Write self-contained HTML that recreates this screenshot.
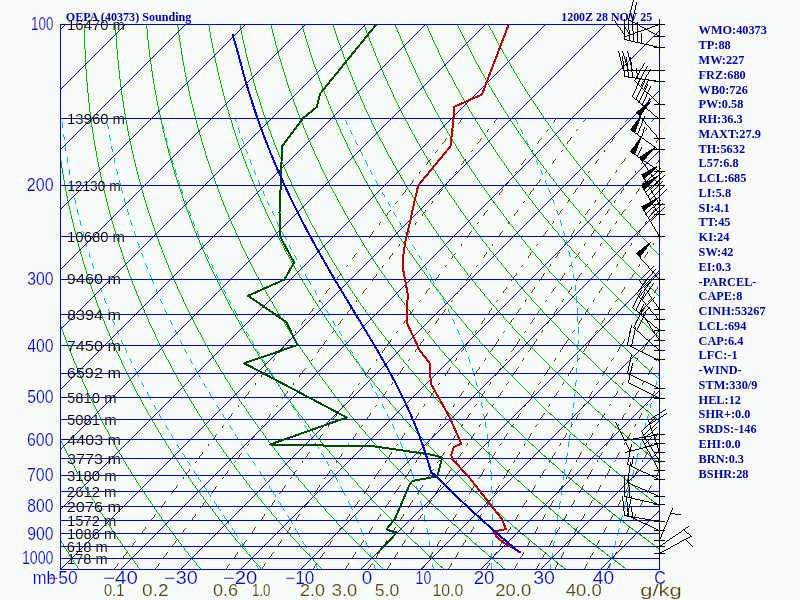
<!DOCTYPE html>
<html><head><meta charset="utf-8"><title>OEPA (40373) Sounding</title>
<style>html,body{margin:0;padding:0;background:#f8fcf8;overflow:hidden}svg{display:block}text{white-space:pre}</style></head>
<body>
<svg width="800" height="600" viewBox="0 0 800 600">
<rect width="800" height="600" fill="#f8fcf8"/>
<defs><clipPath id="cf"><rect x="60" y="24" width="600" height="546"/></clipPath></defs>
<g clip-path="url(#cf)" fill="none" shape-rendering="crispEdges">
<path d="M-39.5,24.5l-1,1 0,6-1,1 0,7-1,1 0,7-1,1 0,8-1,1 0,8-1,1 0,10-1,1 0,11-1,1 0,14-1,1 0,22-1,1 0,48 1,1 0,22 1,1 0,13 1,1 0,11 1,1 0,9 1,1 0,7 1,1 0,7 1,1 0,7 1,1 0,6 1,1 0,5 1,1 0,5 1,1 0,5 1,1 0,4 1,1 0,5 1,1 0,4 1,1 0,4 1,1 0,3 1,1 0,4 1,1 0,3 1,1 0,4 1,1 0,3 1,1 0,3 1,1 0,3 1,1 0,3 1,1 0,3 1,1 0,3 1,1 0,2 1,1 0,3 1,1 0,2 1,1 0,3 1,1 0,2 1,1 0,2 1,1 0,3 1,1 0,2 1,1 0,2 1,1 0,2 1,1 0,2 1,1 0,2 1,1 0,2 1,1 0,2 1,1 0,2 1,1 0,2 1,1 0,2 1,1 0,1 1,1 0,2 1,1 0,2 1,1 0,1 1,1 0,2 1,1 0,2 1,1 0,1 1,1 0,2 1,1 0,1 1,1 0,2 1,1 0,1 1,1 0,2 1,1 0,1 1,1 0,1 1,1 0,2 1,1 0,1 1,1 0,2 1,1 0,1 1,1 0,1 1,1 0,1 1,1 0,2 1,1 0,1 1,1 0,1 1,1 0,1 1,1 0,1 1,1 0,2 1,1 0,1 1,1 0,1 1,1 0,1 1,1 0,1 1,1 0,1 1,1 0,1 1,1 0,1 1,1 0,1 1,1 0,1 1,1 0,1 1,1 0,1 1,1 0,1 1,1 0,1 1,1 0,1 1,1 0,1 1,1 0,1 1,1 0,1 2,2 0,1 1,1 0,1 1,1 0,1 1,1 0,1 1,1 0,1 2,2 0,1 1,1 0,1 1,1 0,1 2,2 0,1 1,1 0,1 1,1 0,1 2,2 0,1 1,1 0,1 1,1 0,1 2,2 0,1 1,1 0,1 2,2 0,1 2,2 0,1 1,1 0,1 2,2 0,1 1,1 0,1 2,2 0,1 2,2 0,1 2,2 0,1 2,2 0,1 1,1 0,1 2,2 0,1 2,2 0,1 2,2M-8.5,24.5l0,1-1,1 0,9-1,1 0,11-1,1 0,12-1,1 0,18-1,1 0,71 1,1 0,17 1,1 0,12 1,1 0,10 1,1 0,8 1,1 0,7 1,1 0,7 1,1 0,6 1,1 0,6 1,1 0,5 1,1 0,5 1,1 0,5 1,1 0,4 1,1 0,4 1,1 0,4 1,1 0,4 1,1 0,4 1,1 0,3 1,1 0,4 1,1 0,3 1,1 0,3 1,1 0,3 1,1 0,3 1,1 0,3 1,1 0,3 1,1 0,3 1,1 0,2 1,1 0,3 1,1 0,2 1,1 0,3 1,1 0,2 1,1 0,2 1,1 0,2 1,1 0,3 1,1 0,2 1,1 0,2 1,1 0,2 1,1 0,2 1,1 0,2 1,1 0,2 1,1 0,2 1,1 0,1 1,1 0,2 1,1 0,2 1,1 0,2 1,1 0,1 1,1 0,2 1,1 0,2 1,1 0,1 1,1 0,2 1,1 0,1 1,1 0,2 1,1 0,1 1,1 0,2 1,1 0,1 1,1 0,2 1,1 0,1 1,1 0,1 1,1 0,2 1,1 0,1 1,1 0,1 1,1 0,2 1,1 0,1 1,1 0,1 1,1 0,1 1,1 0,1 1,1 0,2 1,1 0,1 1,1 0,1 1,1 0,1 1,1 0,1 1,1 0,1 1,1 0,1 1,1 0,1 1,1 0,1 1,1 0,1 1,1 0,1 1,1 0,1 1,1 0,1 1,1 0,1 1,1 0,1 1,1 0,1 1,1 0,1 1,1 0,1 1,1 0,1 1,1 0,1 1,1 0,1 2,2 0,1 1,1 0,1 1,1 0,1 1,1 0,1 1,1 0,1 2,2 0,1 1,1 0,1 1,1 0,1 2,2 0,1 1,1 0,1 1,1 0,1 2,2 0,1 1,1 0,1 2,2 0,1 1,1 0,1 2,2 0,1 1,1 0,1 2,2 0,1 2,2 0,1 1,1 0,1 2,2 0,1 2,2 0,1 1,1 0,1 2,2 0,1 2,2 0,1 2,2 0,1 2,2 0,1 2,2 0,1 2,2 0,1 3,3 0,1 2,2 0,1 2,2 0,1 3,3 0,1 2,2 0,1 3,3 0,1 2,2 0,1 3,3 0,1 3,3M22.5,24.5l0,3-1,1 0,18-1,1 0,68 1,1 0,18 1,1 0,12 1,1 0,10 1,1 0,8 1,1 0,8 1,1 0,6 1,1 0,7 1,1 0,5 1,1 0,6 1,1 0,5 1,1 0,4 1,1 0,5 1,1 0,4 1,1 0,4 1,1 0,4 1,1 0,4 1,1 0,3 1,1 0,3 1,1 0,4 1,1 0,3 1,1 0,3 1,1 0,3 1,1 0,3 1,1 0,3 1,1 0,2 1,1 0,3 1,1 0,2 1,1 0,3 1,1 0,2 1,1 0,3 1,1 0,2 1,1 0,2 1,1 0,2 1,1 0,2 1,1 0,3 1,1 0,2 1,1 0,2 1,1 0,2 1,1 0,1 1,1 0,2 1,1 0,2 1,1 0,2 1,1 0,2 1,1 0,1 1,1 0,2 1,1 0,2 1,1 0,1 1,1 0,2 1,1 0,2 1,1 0,1 1,1 0,2 1,1 0,1 1,1 0,2 1,1 0,1 1,1 0,1 1,1 0,2 1,1 0,1 1,1 0,1 1,1 0,2 1,1 0,1 1,1 0,1 1,1 0,2 1,1 0,1 1,1 0,1 1,1 0,1 1,1 0,1 1,1 0,2 1,1 0,1 1,1 0,1 1,1 0,1 1,1 0,1 1,1 0,1 1,1 0,1 1,1 0,1 1,1 0,1 1,1 0,1 1,1 0,1 1,1 0,1 1,1 0,1 1,1 0,1 1,1 0,1 1,1 0,1 1,1 0,1 1,1 0,1 1,1 0,1 2,2 0,1 1,1 0,1 1,1 0,1 1,1 0,1 1,1 0,1 2,2 0,1 1,1 0,1 1,1 0,1 1,1 0,1 2,2 0,1 1,1 0,1 2,2 0,1 1,1 0,1 1,1 0,1 2,2 0,1 1,1 0,1 2,2 0,1 2,2 0,1 1,1 0,1 2,2 0,1 2,2 0,1 1,1 0,1 2,2 0,1 2,2 0,1 2,2 0,1 2,2 0,1 2,2 0,1 2,2 0,1 2,2 0,1 2,2 0,1 2,2 0,1 2,2 0,1 3,3 0,1 2,2 0,1 2,2 0,1 3,3 0,1 3,3 0,1 3,3 0,1 3,3 0,1 3,3 0,1 3,3 0,1 3,3 0,1 4,4 0,1 4,4 0,1 4,4 0,1 4,4 0,1M53.5,24.5l0,16-1,1 0,16 1,1 0,31 1,1 0,15 1,1 0,12 1,1 0,9 1,1 0,8 1,1 0,7 1,1 0,7 1,1 0,6 1,1 0,6 1,1 0,5 1,1 0,5 1,1 0,4 1,1 0,5 1,1 0,4 1,1 0,4 1,1 0,4 1,1 0,3 1,1 0,4 1,1 0,3 1,1 0,3 1,1 0,3 1,1 0,3 1,1 0,3 1,1 0,3 1,1 0,3 1,1 0,3 1,1 0,2 1,1 0,3 1,1 0,2 1,1 0,3 1,1 0,2 1,1 0,2 1,1 0,2 1,1 0,3 1,1 0,2 1,1 0,2 1,1 0,2 1,1 0,2 1,1 0,2 1,1 0,2 1,1 0,1 1,1 0,2 1,1 0,2 1,1 0,2 1,1 0,2 1,1 0,1 1,1 0,2 1,1 0,1 1,1 0,2 1,1 0,2 1,1 0,1 1,1 0,2 1,1 0,1 1,1 0,2 1,1 0,1 1,1 0,1 1,1 0,2 1,1 0,1 1,1 0,1 1,1 0,2 1,1 0,1 1,1 0,1 1,1 0,2 1,1 0,1 1,1 0,1 1,1 0,1 1,1 0,1 1,1 0,1 1,1 0,2 1,1 0,1 1,1 0,1 1,1 0,1 1,1 0,1 1,1 0,1 1,1 0,1 1,1 0,1 1,1 0,1 1,1 0,1 1,1 0,1 1,1 0,1 1,1 0,1 1,1 0,1 1,1 0,1 1,1 0,1 1,1 0,1 2,2 0,1 1,1 0,1 1,1 0,1 1,1 0,1 1,1 0,1 2,2 0,1 1,1 0,1 1,1 0,1 1,1 0,1 2,2 0,1 1,1 0,1 1,1 0,1 2,2 0,1 1,1 0,1 2,2 0,1 1,1 0,1 2,2 0,1 1,1 0,1 2,2 0,1 2,2 0,1 1,1 0,1 2,2 0,1 2,2 0,1 1,1 0,1 2,2 0,1 2,2 0,1 2,2 0,1 2,2 0,1 2,2 0,1 2,2 0,1 2,2 0,1 3,3 0,1 2,2 0,1 2,2 0,1 3,3 0,1 2,2 0,1 3,3 0,1 3,3 0,1 2,2 0,1 3,3 0,1 4,4 0,1 3,3 0,1 3,3 0,1 4,4 0,1 4,4 0,1 4,4 0,1 5,5 0,1 5,5 0,1 6,6 0,1 6,6 0,1 8,8 0,1 1,1M84.5,24.5l0,24 1,1 0,19 1,1 0,12 1,1 0,10 1,1 0,9 1,1 0,8 1,1 0,6 1,1 0,7 1,1 0,5 1,1 0,6 1,1 0,5 1,1 0,4 1,1 0,5 1,1 0,4 1,1 0,4 1,1 0,4 1,1 0,4 1,1 0,3 1,1 0,4 1,1 0,3 1,1 0,3 1,1 0,3 1,1 0,3 1,1 0,3 1,1 0,3 1,1 0,3 1,1 0,2 1,1 0,3 1,1 0,2 1,1 0,3 1,1 0,2 1,1 0,2 1,1 0,3 1,1 0,2 1,1 0,2 1,1 0,2 1,1 0,2 1,1 0,2 1,1 0,2 1,1 0,2 1,1 0,2 1,1 0,2 1,1 0,1 1,1 0,2 1,1 0,2 1,1 0,2 1,1 0,1 1,1 0,2 1,1 0,2 1,1 0,1 1,1 0,2 1,1 0,1 1,1 0,2 1,1 0,1 1,1 0,2 1,1 0,1 1,1 0,1 1,1 0,2 1,1 0,1 1,1 0,1 1,1 0,2 1,1 0,1 1,1 0,1 1,1 0,1 1,1 0,2 1,1 0,1 1,1 0,1 1,1 0,1 1,1 0,1 1,1 0,1 1,1 0,1 1,1 0,2 1,1 0,1 1,1 0,1 1,1 0,1 1,1 0,1 1,1 0,1 1,1 0,1 1,1 0,1 1,1 0,1 1,1 0,1 1,1 0,1 1,1 0,1 2,2 0,1 1,1 0,1 1,1 0,1 1,1 0,1 1,1 0,1 1,1 0,1 2,2 0,1 1,1 0,1 1,1 0,1 1,1 0,1 2,2 0,1 1,1 0,1 1,1 0,1 2,2 0,1 1,1 0,1 2,2 0,1 1,1 0,1 1,1 0,1 2,2 0,1 2,2 0,1 1,1 0,1 2,2 0,1 1,1 0,1 2,2 0,1 2,2 0,1 2,2 0,1 1,1 0,1 2,2 0,1 2,2 0,1 2,2 0,1 2,2 0,1 2,2 0,1 2,2 0,1 3,3 0,1 2,2 0,1 2,2 0,1 3,3 0,1 2,2 0,1 3,3 0,1 3,3 0,1 2,2 0,1 3,3 0,1 4,4 0,1 3,3 0,1 3,3 0,1 4,4 0,1 4,4 0,1 4,4 0,1 5,5 0,1 5,5 0,1 5,5 0,1 7,7 0,1 7,7 0,1 9,9 0,1 14,14 0,1 9,9M115.5,24.5l0,9 1,1 0,14 1,1 0,10 1,1 0,9 1,1 0,8 1,1 0,7 1,1 0,7 1,1 0,5 1,1 0,6 1,1 0,5 1,1 0,5 1,1 0,4 1,1 0,5 1,1 0,4 1,1 0,4 1,1 0,3 1,1 0,4 1,1 0,3 1,1 0,4 1,1 0,3 1,1 0,3 1,1 0,3 1,1 0,3 1,1 0,3 1,1 0,2 1,1 0,3 1,1 0,3 1,1 0,2 1,1 0,3 1,1 0,2 1,1 0,2 1,1 0,3 1,1 0,2 1,1 0,2 1,1 0,2 1,1 0,2 1,1 0,2 1,1 0,2 1,1 0,2 1,1 0,2 1,1 0,2 1,1 0,1 1,1 0,2 1,1 0,2 1,1 0,2 1,1 0,1 1,1 0,2 1,1 0,2 1,1 0,1 1,1 0,2 1,1 0,1 1,1 0,2 1,1 0,1 1,1 0,2 1,1 0,1 1,1 0,1 1,1 0,2 1,1 0,1 1,1 0,1 1,1 0,2 1,1 0,1 1,1 0,1 1,1 0,2 1,1 0,1 1,1 0,1 1,1 0,1 1,1 0,1 1,1 0,1 1,1 0,2 1,1 0,1 1,1 0,1 1,1 0,1 1,1 0,1 1,1 0,1 1,1 0,1 1,1 0,1 1,1 0,1 1,1 0,1 1,1 0,1 1,1 0,1 1,1 0,1 1,1 0,1 1,1 0,1 1,1 0,1 2,2 0,1 1,1 0,1 1,1 0,1 1,1 0,1 1,1 0,1 1,1 0,1 2,2 0,1 1,1 0,1 1,1 0,1 2,2 0,1 1,1 0,1 1,1 0,1 2,2 0,1 1,1 0,1 2,2 0,1 1,1 0,1 1,1 0,1 2,2 0,1 2,2 0,1 1,1 0,1 2,2 0,1 2,2 0,1 1,1 0,1 2,2 0,1 2,2 0,1 2,2 0,1 2,2 0,1 1,1 0,1 2,2 0,1 3,3 0,1 2,2 0,1 2,2 0,1 2,2 0,1 2,2 0,1 3,3 0,1 2,2 0,1 3,3 0,1 3,3 0,1 2,2 0,1 3,3 0,1 3,3 0,1 3,3 0,1 4,4 0,1 3,3 0,1 4,4 0,1 4,4 0,1 5,5 0,1 4,4 0,1 6,6 0,1 6,6 0,1 7,7 0,1 8,8 0,1 11,11 0,1 47,47M146.5,24.5l0,4 1,1 0,10 1,1 0,8 1,1 0,7 1,1 0,6 1,1 0,6 1,1 0,6 1,1 0,5 1,1 0,5 1,1 0,4 1,1 0,5 1,1 0,4 1,1 0,4 1,1 0,3 1,1 0,4 1,1 0,3 1,1 0,4 1,1 0,3 1,1 0,3 1,1 0,3 1,1 0,3 1,1 0,3 1,1 0,3 1,1 0,2 1,1 0,3 1,1 0,2 1,1 0,3 1,1 0,2 1,1 0,3 1,1 0,2 1,1 0,2 1,1 0,2 1,1 0,2 1,1 0,2 1,1 0,2 1,1 0,2 1,1 0,2 1,1 0,2 1,1 0,2 1,1 0,2 1,1 0,2 1,1 0,1 1,1 0,2 1,1 0,2 1,1 0,1 1,1 0,2 1,1 0,2 1,1 0,1 1,1 0,2 1,1 0,1 1,1 0,2 1,1 0,1 1,1 0,1 1,1 0,2 1,1 0,1 1,1 0,2 1,1 0,1 1,1 0,1 1,1 0,1 1,1 0,2 1,1 0,1 1,1 0,1 1,1 0,1 1,1 0,2 1,1 0,1 1,1 0,1 1,1 0,1 1,1 0,1 1,1 0,1 1,1 0,1 1,1 0,1 1,1 0,1 1,1 0,1 1,1 0,1 1,1 0,1 1,1 0,1 1,1 0,1 1,1 0,1 1,1 0,1 1,1 0,1 1,1 0,1 1,1 0,1 1,1 0,1 1,1 0,1 1,1 0,1 1,1 0,1 2,2 0,1 1,1 0,1 1,1 0,1 1,1 0,1 2,2 0,1 1,1 0,1 1,1 0,1 2,2 0,1 1,1 0,1 1,1 0,1 2,2 0,1 1,1 0,1 2,2 0,1 1,1 0,1 2,2 0,1 1,1 0,1 2,2 0,1 2,2 0,1 1,1 0,1 2,2 0,1 2,2 0,1 2,2 0,1 1,1 0,1 2,2 0,1 2,2 0,1 2,2 0,1 2,2 0,1 3,3 0,1 2,2 0,1 2,2 0,1 2,2 0,1 3,3 0,1 2,2 0,1 3,3 0,1 3,3 0,1 2,2 0,1 3,3 0,1 4,4 0,1 3,3 0,1 3,3 0,1 4,4 0,1 4,4 0,1 4,4 0,1 4,4 0,1 5,5 0,1 6,6 0,1 6,6 0,1 7,7 0,1 9,9 0,1 13,13 0,1 44,44 2,1 13,13 2,1 9,9 2,1 2,2M177.5,24.5l0,2 1,1 0,7 1,1 0,6 1,1 0,5 1,1 0,6 1,1 0,5 1,1 0,4 1,1 0,5 1,1 0,4 1,1 0,4 1,1 0,3 1,1 0,4 1,1 0,4 1,1 0,3 1,1 0,3 1,1 0,3 1,1 0,3 1,1 0,3 1,1 0,3 1,1 0,3 1,1 0,3 1,1 0,2 1,1 0,3 1,1 0,2 1,1 0,3 1,1 0,2 1,1 0,2 1,1 0,2 1,1 0,3 1,1 0,2 1,1 0,2 1,1 0,2 1,1 0,2 1,1 0,2 1,1 0,2 1,1 0,1 1,1 0,2 1,1 0,2 1,1 0,2 1,1 0,1 1,1 0,2 1,1 0,2 1,1 0,1 1,1 0,2 1,1 0,2 1,1 0,1 1,1 0,2 1,1 0,1 1,1 0,2 1,1 0,1 1,1 0,1 1,1 0,2 1,1 0,1 1,1 0,1 1,1 0,2 1,1 0,1 1,1 0,1 1,1 0,1 1,1 0,2 1,1 0,1 1,1 0,1 1,1 0,1 1,1 0,1 1,1 0,2 1,1 0,1 1,1 0,1 1,1 0,1 1,1 0,1 1,1 0,1 1,1 0,1 1,1 0,1 1,1 0,1 1,1 0,1 1,1 0,1 1,1 0,1 1,1 0,1 1,1 0,1 1,1 0,1 1,1 0,1 1,1 0,1 2,2 0,1 1,1 0,1 1,1 0,1 1,1 0,1 1,1 0,1 2,2 0,1 1,1 0,1 1,1 0,1 1,1 0,1 2,2 0,1 1,1 0,1 2,2 0,1 1,1 0,1 1,1 0,1 2,2 0,1 1,1 0,1 2,2 0,1 1,1 0,1 2,2 0,1 2,2 0,1 1,1 0,1 2,2 0,1 2,2 0,1 1,1 0,1 2,2 0,1 2,2 0,1 2,2 0,1 2,2 0,1 2,2 0,1 2,2 0,1 2,2 0,1 3,3 0,1 2,2 0,1 2,2 0,1 3,3 0,1 2,2 0,1 3,3 0,1 3,3 0,1 3,3 0,1 3,3 0,1 3,3 0,1 3,3 0,1 4,4 0,1 3,3 0,1 4,4 0,1 4,4 0,1 5,5 0,1 5,5 0,1 6,6 0,1 6,6 0,1 8,8 0,1 10,10 0,1 16,16 0,1 31,31 2,1 15,15 2,1 10,10 2,1 7,7 2,1 6,6 2,1 5,5 2,1 5,5 2,1 5,5 2,1M208.5,24.5l0,1 1,1 0,5 1,1 0,5 1,1 0,4 1,1 0,4 1,1 0,4 1,1 0,4 1,1 0,4 1,1 0,3 1,1 0,4 1,1 0,3 1,1 0,3 1,1 0,3 1,1 0,3 1,1 0,3 1,1 0,3 1,1 0,3 1,1 0,2 1,1 0,3 1,1 0,2 1,1 0,3 1,1 0,2 1,1 0,2 1,1 0,2 1,1 0,3 1,1 0,2 1,1 0,2 1,1 0,2 1,1 0,2 1,1 0,2 1,1 0,2 1,1 0,2 1,1 0,1 1,1 0,2 1,1 0,2 1,1 0,2 1,1 0,1 1,1 0,2 1,1 0,2 1,1 0,1 1,1 0,2 1,1 0,1 1,1 0,2 1,1 0,1 1,1 0,2 1,1 0,1 1,1 0,2 1,1 0,1 1,1 0,1 1,1 0,2 1,1 0,1 1,1 0,1 1,1 0,2 1,1 0,1 1,1 0,1 1,1 0,1 1,1 0,1 1,1 0,2 1,1 0,1 1,1 0,1 1,1 0,1 1,1 0,1 1,1 0,1 1,1 0,1 1,1 0,1 1,1 0,1 1,1 0,1 1,1 0,1 1,1 0,1 1,1 0,1 1,1 0,1 1,1 0,1 1,1 0,1 1,1 0,1 1,1 0,1 1,1 0,1 1,1 0,1 1,1 0,1 1,1 0,1 2,2 0,1 1,1 0,1 1,1 0,1 1,1 0,1 2,2 0,1 1,1 0,1 1,1 0,1 2,2 0,1 1,1 0,1 1,1 0,1 2,2 0,1 1,1 0,1 2,2 0,1 1,1 0,1 2,2 0,1 1,1 0,1 2,2 0,1 2,2 0,1 1,1 0,1 2,2 0,1 2,2 0,1 1,1 0,1 2,2 0,1 2,2 0,1 2,2 0,1 2,2 0,1 2,2 0,1 2,2 0,1 3,3 0,1 2,2 0,1 2,2 0,1 3,3 0,1 2,2 0,1 3,3 0,1 2,2 0,1 3,3 0,1 3,3 0,1 3,3 0,1 3,3 0,1 4,4 0,1 3,3 0,1 4,4 0,1 4,4 0,1 5,5 0,1 4,4 0,1 6,6 0,1 6,6 0,1 7,7 0,1 8,8 0,1 12,12 0,1 52,52 2,1 11,11 2,1 8,8 2,1 7,7 2,1 6,6 2,1 5,5 2,1 4,4 2,1 4,4 2,1 4,4 2,1 3,3 2,1 4,4 2,1 3,3 2,1 3,3 2,1 2,2 2,1M239.5,24.5l1,1 0,4 1,1 0,4 1,1 0,4 1,1 0,3 1,1 0,3 1,1 0,4 1,1 0,3 1,1 0,3 1,1 0,3 1,1 0,2 1,1 0,3 1,1 0,3 1,1 0,2 1,1 0,3 1,1 0,2 1,1 0,3 1,1 0,2 1,1 0,2 1,1 0,2 1,1 0,2 1,1 0,3 1,1 0,2 1,1 0,2 1,1 0,2 1,1 0,1 1,1 0,2 1,1 0,2 1,1 0,2 1,1 0,2 1,1 0,1 1,1 0,2 1,1 0,2 1,1 0,1 1,1 0,2 1,1 0,2 1,1 0,1 1,1 0,2 1,1 0,1 1,1 0,2 1,1 0,1 1,1 0,1 1,1 0,2 1,1 0,1 1,1 0,2 1,1 0,1 1,1 0,1 1,1 0,1 1,1 0,2 1,1 0,1 1,1 0,1 1,1 0,1 1,1 0,2 1,1 0,1 1,1 0,1 1,1 0,1 1,1 0,1 1,1 0,1 1,1 0,1 1,1 0,1 1,1 0,1 1,1 0,1 1,1 0,1 1,1 0,1 1,1 0,1 1,1 0,1 1,1 0,1 1,1 0,1 1,1 0,1 1,1 0,1 1,1 0,1 1,1 0,1 1,1 0,1 1,1 0,1 2,2 0,1 1,1 0,1 1,1 0,1 1,1 0,1 2,2 0,1 1,1 0,1 1,1 0,1 1,1 0,1 2,2 0,1 1,1 0,1 2,2 0,1 1,1 0,1 1,1 0,1 2,2 0,1 1,1 0,1 2,2 0,1 2,2 0,1 1,1 0,1 2,2 0,1 2,2 0,1 1,1 0,1 2,2 0,1 2,2 0,1 2,2 0,1 2,2 0,1 2,2 0,1 2,2 0,1 2,2 0,1 2,2 0,1 2,2 0,1 3,3 0,1 2,2 0,1 2,2 0,1 3,3 0,1 3,3 0,1 2,2 0,1 3,3 0,1 3,3 0,1 4,4 0,1 3,3 0,1 3,3 0,1 4,4 0,1 4,4 0,1 4,4 0,1 5,5 0,1 5,5 0,1 6,6 0,1 6,6 0,1 8,8 0,1 10,10 0,1 18,18 0,1 26,26 2,1 17,17 2,1 9,9 2,1 8,8 2,1 6,6 2,1 5,5 2,1 5,5 2,1 5,5 2,1 4,4 2,1 3,3 2,1 4,4 2,1 3,3 2,1 3,3 2,1 3,3 2,1 2,2 2,1 3,3 2,1 2,2 2,1 3,3 2,1 2,2 2,1 2,2 2,1 2,2 2,1 2,2 2,1 2,2M270.5,24.5l1,1 0,3 1,1 0,3 1,1 0,3 1,1 0,3 1,1 0,3 1,1 0,2 1,1 0,3 1,1 0,3 1,1 0,2 1,1 0,2 1,1 0,3 1,1 0,2 1,1 0,2 1,1 0,2 1,1 0,2 1,1 0,3 1,1 0,2 1,1 0,2 1,1 0,2 1,1 0,1 1,1 0,2 1,1 0,2 1,1 0,2 1,1 0,2 1,1 0,1 1,1 0,2 1,1 0,2 1,1 0,1 1,1 0,2 1,1 0,1 1,1 0,2 1,1 0,1 1,1 0,2 1,1 0,1 1,1 0,2 1,1 0,1 1,1 0,2 1,1 0,1 1,1 0,1 1,1 0,2 1,1 0,1 1,1 0,1 1,1 0,1 1,1 0,2 1,1 0,1 1,1 0,1 1,1 0,1 1,1 0,1 1,1 0,1 1,1 0,2 1,1 0,1 1,1 0,1 1,1 0,1 1,1 0,1 1,1 0,1 1,1 0,1 1,1 0,1 1,1 0,1 1,1 0,1 1,1 0,1 1,1 0,1 1,1 0,1 1,1 0,1 2,2 0,1 1,1 0,1 1,1 0,1 1,1 0,1 1,1 0,1 1,1 0,1 2,2 0,1 1,1 0,1 1,1 0,1 1,1 0,1 2,2 0,1 1,1 0,1 1,1 0,1 2,2 0,1 1,1 0,1 2,2 0,1 1,1 0,1 1,1 0,1 2,2 0,1 2,2 0,1 1,1 0,1 2,2 0,1 1,1 0,1 2,2 0,1 2,2 0,1 2,2 0,1 2,2 0,1 1,1 0,1 2,2 0,1 2,2 0,1 2,2 0,1 2,2 0,1 3,3 0,1 2,2 0,1 2,2 0,1 3,3 0,1 2,2 0,1 3,3 0,1 2,2 0,1 3,3 0,1 3,3 0,1 3,3 0,1 3,3 0,1 3,3 0,1 4,4 0,1 4,4 0,1 4,4 0,1 4,4 0,1 5,5 0,1 5,5 0,1 5,5 0,1 7,7 0,1 8,8 0,1 10,10 0,1 17,17 0,1 26,26 2,1 17,17 2,1 10,10 2,1 7,7 2,1 7,7 2,1 5,5 2,1 5,5 2,1 4,4 2,1 4,4 2,1 4,4 2,1 3,3 2,1 3,3 2,1 3,3 2,1 3,3 2,1 3,3 2,1 2,2 2,1 3,3 2,1 2,2 2,1 2,2 2,1 2,2 2,1 2,2 2,1 2,2 2,1 2,2 2,1 2,2 2,1 2,2 2,1 2,2 2,1 1,1 2,1 2,2 2,1 1,1 2,1 2,2 2,1 1,1 2,1 2,2 2,1 1,1M301.5,24.5l1,1 0,2 1,1 0,3 1,1 0,2 1,1 0,3 1,1 0,2 1,1 0,2 1,1 0,2 1,1 0,3 1,1 0,2 1,1 0,2 1,1 0,2 1,1 0,2 1,1 0,2 1,1 0,1 1,1 0,2 1,1 0,2 1,1 0,2 1,1 0,2 1,1 0,1 1,1 0,2 1,1 0,2 1,1 0,1 1,1 0,2 1,1 0,1 1,1 0,2 1,1 0,1 1,1 0,2 1,1 0,1 1,1 0,2 1,1 0,1 1,1 0,1 1,1 0,2 1,1 0,1 1,1 0,1 1,1 0,2 1,1 0,1 1,1 0,1 1,1 0,1 1,1 0,2 1,1 0,1 1,1 0,1 1,1 0,1 1,1 0,1 1,1 0,1 1,1 0,1 1,1 0,2 1,1 0,1 1,1 0,1 1,1 0,1 1,1 0,1 1,1 0,1 1,1 0,1 1,1 0,1 1,1 0,1 1,1 0,1 2,2 0,1 1,1 0,1 1,1 0,1 1,1 0,1 1,1 0,1 1,1 0,1 1,1 0,1 2,2 0,1 1,1 0,1 1,1 0,1 1,1 0,1 2,2 0,1 1,1 0,1 1,1 0,1 2,2 0,1 1,1 0,1 1,1 0,1 2,2 0,1 1,1 0,1 2,2 0,1 1,1 0,1 2,2 0,1 2,2 0,1 1,1 0,1 2,2 0,1 2,2 0,1 1,1 0,1 2,2 0,1 2,2 0,1 2,2 0,1 2,2 0,1 2,2 0,1 2,2 0,1 2,2 0,1 2,2 0,1 3,3 0,1 2,2 0,1 2,2 0,1 3,3 0,1 2,2 0,1 3,3 0,1 3,3 0,1 3,3 0,1 3,3 0,1 3,3 0,1 4,4 0,1 3,3 0,1 4,4 0,1 4,4 0,1 5,5 0,1 5,5 0,1 5,5 0,1 6,6 0,1 7,7 0,1 9,9 0,1 12,12 0,1 49,49 2,1 12,12 2,1 8,8 2,1 7,7 2,1 5,5 2,1 5,5 2,1 5,5 2,1 4,4 2,1 4,4 2,1 3,3 2,1 4,4 2,1 3,3 2,1 3,3 2,1 2,2 2,1 3,3 2,1 3,3 2,1 2,2 2,1 2,2 2,1 2,2 2,1 2,2 2,1 2,2 2,1 2,2 2,1 2,2 2,1 2,2 2,1 2,2 2,1 1,1 2,1 2,2 2,1 2,2 2,1 1,1 2,1 2,2 2,1 1,1 2,1 1,1 2,1 2,2 2,1 1,1 2,1 1,1 2,1 2,2 2,1 1,1 2,1 1,1 2,1 1,1 2,1 1,1 2,1 1,1 2,1 1,1 2,1 1,1 2,1 1,1M333.5,24.5l0,3 1,1 0,2 1,1 0,2 1,1 0,2 1,1 0,2 1,1 0,2 1,1 0,1 1,1 0,2 1,1 0,2 1,1 0,2 1,1 0,2 1,1 0,1 1,1 0,2 1,1 0,2 1,1 0,1 1,1 0,2 1,1 0,1 1,1 0,2 1,1 0,1 1,1 0,2 1,1 0,1 1,1 0,2 1,1 0,1 1,1 0,2 1,1 0,1 1,1 0,1 1,1 0,1 1,1 0,2 1,1 0,1 1,1 0,1 1,1 0,1 1,1 0,2 1,1 0,1 1,1 0,1 1,1 0,1 1,1 0,1 1,1 0,1 1,1 0,1 1,1 0,2 1,1 0,1 1,1 0,1 1,1 0,1 1,1 0,1 1,1 0,1 1,1 0,1 1,1 0,1 1,1 0,1 1,1 0,1 2,2 0,1 1,1 0,1 1,1 0,1 1,1 0,1 1,1 0,1 1,1 0,1 1,1 0,1 2,2 0,1 1,1 0,1 1,1 0,1 1,1 0,1 2,2 0,1 1,1 0,1 1,1 0,1 2,2 0,1 1,1 0,1 1,1 0,1 2,2 0,1 1,1 0,1 2,2 0,1 1,1 0,1 2,2 0,1 2,2 0,1 1,1 0,1 2,2 0,1 2,2 0,1 1,1 0,1 2,2 0,1 2,2 0,1 2,2 0,1 2,2 0,1 2,2 0,1 2,2 0,1 2,2 0,1 2,2 0,1 3,3 0,1 2,2 0,1 2,2 0,1 3,3 0,1 2,2 0,1 3,3 0,1 3,3 0,1 3,3 0,1 3,3 0,1 3,3 0,1 4,4 0,1 3,3 0,1 4,4 0,1 4,4 0,1 5,5 0,1 4,4 0,1 6,6 0,1 6,6 0,1 7,7 0,1 9,9 0,1 12,12 0,1 49,49 2,1 12,12 2,1 8,8 2,1 7,7 2,1 6,6 2,1 5,5 2,1 4,4 2,1 4,4 2,1 4,4 2,1 3,3 2,1 4,4 2,1 3,3 2,1 3,3 2,1 2,2 2,1 3,3 2,1 3,3 2,1 2,2 2,1 2,2 2,1 2,2 2,1 2,2 2,1 2,2 2,1 2,2 2,1 2,2 2,1 2,2 2,1 2,2 2,1 1,1 2,1 2,2 2,1 2,2 2,1 1,1 2,1 2,2 2,1 1,1 2,1 1,1 2,1 2,2 2,1 1,1 2,1 1,1 2,1 2,2 2,1 1,1 2,1 1,1 2,1 1,1 2,1 1,1 2,1 1,1 2,1 1,1 2,1 1,1 2,1 1,1 2,1 1,1 2,1 1,1 2,1 1,1 2,1 1,1 2,1 1,1 2,1 1,1 2,1 1,1 2,1 1,1 2,1 2,1 1,1 2,1 1,1 2,1 1,1 2,1M364.5,24.5l0,2 1,1 0,2 1,1 0,2 1,1 0,1 1,1 0,2 1,1 0,2 1,1 0,1 1,1 0,2 1,1 0,1 1,1 0,2 1,1 0,1 1,1 0,2 1,1 0,1 1,1 0,2 1,1 0,1 1,1 0,1 1,1 0,2 1,1 0,1 1,1 0,1 1,1 0,2 1,1 0,1 1,1 0,1 1,1 0,1 1,1 0,2 1,1 0,1 1,1 0,1 1,1 0,1 1,1 0,1 1,1 0,1 1,1 0,2 1,1 0,1 1,1 0,1 1,1 0,1 1,1 0,1 1,1 0,1 1,1 0,1 1,1 0,1 1,1 0,1 1,1 0,1 1,1 0,1 1,1 0,1 1,1 0,1 2,2 0,1 1,1 0,1 1,1 0,1 1,1 0,1 1,1 0,1 1,1 0,1 2,2 0,1 1,1 0,1 1,1 0,1 1,1 0,1 2,2 0,1 1,1 0,1 1,1 0,1 2,2 0,1 1,1 0,1 2,2 0,1 1,1 0,1 2,2 0,1 1,1 0,1 2,2 0,1 1,1 0,1 2,2 0,1 2,2 0,1 1,1 0,1 2,2 0,1 2,2 0,1 2,2 0,1 1,1 0,1 2,2 0,1 2,2 0,1 2,2 0,1 3,3 0,1 2,2 0,1 2,2 0,1 2,2 0,1 3,3 0,1 2,2 0,1 3,3 0,1 2,2 0,1 3,3 0,1 3,3 0,1 3,3 0,1 3,3 0,1 4,4 0,1 3,3 0,1 4,4 0,1 4,4 0,1 4,4 0,1 5,5 0,1 5,5 0,1 6,6 0,1 6,6 0,1 8,8 0,1 11,11 0,1 18,18 0,1 23,23 2,1 17,17 2,1 10,10 2,1 8,8 2,1 6,6 2,1 6,6 2,1 4,4 2,1 5,5 2,1 4,4 2,1 3,3 2,1 4,4 2,1 3,3 2,1 3,3 2,1 3,3 2,1 3,3 2,1 2,2 2,1 3,3 2,1 2,2 2,1 2,2 2,1 2,2 2,1 2,2 2,1 2,2 2,1 2,2 2,1 2,2 2,1 2,2 2,1 2,2 2,1 1,1 2,1 2,2 2,1 1,1 2,1 2,2 2,1 1,1 2,1 2,2 2,1 1,1 2,1 1,1 2,1 2,2 2,1 1,1 2,1 1,1 2,1 1,1 2,1 2,2 2,1 1,1 2,1 1,1 2,1 1,1 2,1 1,1 2,1 1,1 2,1 1,1 2,1 1,1 2,1 1,1 2,1 1,1 2,1 1,1 2,1 1,1 2,1 2,1 1,1 2,1 1,1 2,1 1,1 2,1 1,1 2,1 2,1 1,1 2,1 1,1 2,1 1,1 2,1 2,1 1,1 2,1 1,1 2,1 2,1 1,1 2,1 1,1 2,1 2,1 1,1 2,1 2,1 1,1 2,1 1,1 2,1 2,1M395.5,24.5l0,2 1,1 0,1 1,1 0,2 1,1 0,1 1,1 0,1 1,1 0,2 1,1 0,1 1,1 0,2 1,1 0,1 1,1 0,1 1,1 0,2 1,1 0,1 1,1 0,1 1,1 0,1 1,1 0,2 1,1 0,1 1,1 0,1 1,1 0,1 1,1 0,1 1,1 0,1 1,1 0,2 1,1 0,1 1,1 0,1 1,1 0,1 1,1 0,1 1,1 0,1 1,1 0,1 1,1 0,1 1,1 0,1 1,1 0,1 1,1 0,1 1,1 0,1 1,1 0,1 1,1 0,1 2,2 0,1 1,1 0,1 1,1 0,1 1,1 0,1 1,1 0,1 1,1 0,1 2,2 0,1 1,1 0,1 1,1 0,1 1,1 0,1 2,2 0,1 1,1 0,1 1,1 0,1 2,2 0,1 1,1 0,1 2,2 0,1 1,1 0,1 2,2 0,1 1,1 0,1 2,2 0,1 1,1 0,1 2,2 0,1 2,2 0,1 1,1 0,1 2,2 0,1 2,2 0,1 2,2 0,1 2,2 0,1 2,2 0,1 2,2 0,1 2,2 0,1 2,2 0,1 2,2 0,1 2,2 0,1 3,3 0,1 2,2 0,1 3,3 0,1 2,2 0,1 3,3 0,1 3,3 0,1 3,3 0,1 3,3 0,1 3,3 0,1 3,3 0,1 4,4 0,1 4,4 0,1 4,4 0,1 4,4 0,1 5,5 0,1 5,5 0,1 6,6 0,1 7,7 0,1 9,9 0,1 11,11 0,1 53,53 2,1 11,11 2,1 8,8 2,1 6,6 2,1 6,6 2,1 5,5 2,1 5,5 2,1 4,4 2,1 3,3 2,1 4,4 2,1 3,3 2,1 3,3 2,1 3,3 2,1 3,3 2,1 2,2 2,1 3,3 2,1 2,2 2,1 3,3 2,1 2,2 2,1 2,2 2,1 2,2 2,1 2,2 2,1 2,2 2,1 1,1 2,1 2,2 2,1 2,2 2,1 1,1 2,1 2,2 2,1 1,1 2,1 2,2 2,1 1,1 2,1 2,2 2,1 1,1 2,1 1,1 2,1 2,2 2,1 1,1 2,1 1,1 2,1 1,1 2,1 1,1 2,1 1,1 2,1 2,2 2,1 1,1 2,1 1,1 2,1 1,1 2,1 1,1 2,1 1,1 2,1 1,1 2,1 2,1 1,1 2,1 1,1 2,1 1,1 2,1 1,1 2,1 1,1 2,1 2,1 1,1 2,1 1,1 2,1 1,1 2,1 2,1 1,1 2,1 1,1 2,1 1,1 2,1 2,1 1,1 2,1 2,1 1,1 2,1 1,1 2,1 2,1 1,1 2,1 2,1 1,1 2,1 1,1 2,1 2,1 1,1 2,1 2,1 1,1 2,1 2,1 1,1 2,1 2,1 2,1 1,1 2,1 2,1 1,1 2,1 2,1 1,1 2,1 2,1 2,1M426.5,24.5l0,1 1,1 0,1 1,1 0,2 1,1 0,1 1,1 0,1 1,1 0,1 1,1 0,2 1,1 0,1 1,1 0,1 1,1 0,1 1,1 0,1 1,1 0,1 1,1 0,2 1,1 0,1 1,1 0,1 1,1 0,1 1,1 0,1 1,1 0,1 1,1 0,1 1,1 0,1 1,1 0,1 1,1 0,1 1,1 0,1 1,1 0,1 2,2 0,1 1,1 0,1 1,1 0,1 1,1 0,1 1,1 0,1 1,1 0,1 2,2 0,1 1,1 0,1 1,1 0,1 1,1 0,1 2,2 0,1 1,1 0,1 1,1 0,1 2,2 0,1 1,1 0,1 1,1 0,1 2,2 0,1 1,1 0,1 2,2 0,1 1,1 0,1 2,2 0,1 2,2 0,1 1,1 0,1 2,2 0,1 2,2 0,1 1,1 0,1 2,2 0,1 2,2 0,1 2,2 0,1 2,2 0,1 2,2 0,1 2,2 0,1 2,2 0,1 2,2 0,1 3,3 0,1 2,2 0,1 2,2 0,1 3,3 0,1 2,2 0,1 3,3 0,1 3,3 0,1 3,3 0,1 3,3 0,1 3,3 0,1 4,4 0,1 3,3 0,1 4,4 0,1 4,4 0,1 5,5 0,1 4,4 0,1 6,6 0,1 6,6 0,1 7,7 0,1 8,8 0,1 12,12 0,1 50,50 2,1 12,12 2,1 8,8 2,1 7,7 2,1 6,6 2,1 5,5 2,1 4,4 2,1 4,4 2,1 4,4 2,1 4,4 2,1 3,3 2,1 3,3 2,1 3,3 2,1 3,3 2,1 2,2 2,1 3,3 2,1 2,2 2,1 2,2 2,1 2,2 2,1 2,2 2,1 2,2 2,1 2,2 2,1 2,2 2,1 2,2 2,1 2,2 2,1 1,1 2,1 2,2 2,1 2,2 2,1 1,1 2,1 2,2 2,1 1,1 2,1 1,1 2,1 2,2 2,1 1,1 2,1 1,1 2,1 2,2 2,1 1,1 2,1 1,1 2,1 1,1 2,1 1,1 2,1 1,1 2,1 1,1 2,1 1,1 2,1 1,1 2,1 1,1 2,1 1,1 2,1 1,1 2,1 1,1 2,1 1,1 2,1 1,1 2,1 1,1 2,1 1,1 2,1 2,1 1,1 2,1 1,1 2,1 1,1 2,1 1,1 2,1 2,1 1,1 2,1 1,1 2,1 2,1 1,1 2,1 1,1 2,1 2,1 1,1 2,1 1,1 2,1 2,1 1,1 2,1 2,1 1,1 2,1 2,1 1,1 2,1 2,1 1,1 2,1 2,1 1,1 2,1 2,1 1,1 2,1 2,1 1,1 2,1 2,1 1,1 2,1 2,1 2,1 1,1 2,1 2,1 1,1 2,1 2,1 2,1 1,1 2,1 2,1 2,1 1,1 2,1 2,1 2,1 1,1 2,1 2,1 2,1 1,1 2,1 2,1 2,1 2,1 1,1M457.5,24.5l0,1 1,1 0,1 1,1 0,1 1,1 0,1 1,1 0,1 1,1 0,1 1,1 0,1 1,1 0,1 1,1 0,1 1,1 0,1 1,1 0,1 1,1 0,1 1,1 0,1 1,1 0,1 1,1 0,1 1,1 0,1 1,1 0,1 1,1 0,1 1,1 0,1 1,1 0,1 2,2 0,1 1,1 0,1 1,1 0,1 1,1 0,1 2,2 0,1 1,1 0,1 1,1 0,1 2,2 0,1 1,1 0,1 1,1 0,1 2,2 0,1 1,1 0,1 2,2 0,1 1,1 0,1 2,2 0,1 1,1 0,1 2,2 0,1 1,1 0,1 2,2 0,1 2,2 0,1 2,2 0,1 1,1 0,1 2,2 0,1 2,2 0,1 2,2 0,1 2,2 0,1 2,2 0,1 2,2 0,1 3,3 0,1 2,2 0,1 2,2 0,1 2,2 0,1 3,3 0,1 3,3 0,1 2,2 0,1 3,3 0,1 3,3 0,1 3,3 0,1 3,3 0,1 4,4 0,1 3,3 0,1 4,4 0,1 4,4 0,1 5,5 0,1 4,4 0,1 6,6 0,1 6,6 0,1 7,7 0,1 8,8 0,1 11,11 0,1 53,53 2,1 11,11 2,1 8,8 2,1 7,7 2,1 6,6 2,1 5,5 2,1 4,4 2,1 4,4 2,1 4,4 2,1 3,3 2,1 4,4 2,1 3,3 2,1 3,3 2,1 2,2 2,1 3,3 2,1 2,2 2,1 3,3 2,1 2,2 2,1 2,2 2,1 2,2 2,1 2,2 2,1 2,2 2,1 2,2 2,1 2,2 2,1 2,2 2,1 1,1 2,1 2,2 2,1 1,1 2,1 2,2 2,1 1,1 2,1 2,2 2,1 1,1 2,1 2,2 2,1 1,1 2,1 1,1 2,1 1,1 2,1 2,2 2,1 1,1 2,1 1,1 2,1 1,1 2,1 1,1 2,1 1,1 2,1 1,1 2,1 1,1 2,1 1,1 2,1 1,1 2,1 1,1 2,1 1,1 2,1 1,1 2,1 1,1 2,1 1,1 2,1 2,1 1,1 2,1 1,1 2,1 1,1 2,1 1,1 2,1 2,1 1,1 2,1 1,1 2,1 2,1 1,1 2,1 1,1 2,1 2,1 1,1 2,1 1,1 2,1 2,1 1,1 2,1 2,1 1,1 2,1 1,1 2,1 2,1 1,1 2,1 2,1 1,1 2,1 2,1 1,1 2,1 2,1 1,1 2,1 2,1 2,1 1,1 2,1 2,1 1,1 2,1 2,1 1,1 2,1 2,1 2,1 1,1 2,1 2,1 2,1 1,1 2,1 2,1 2,1 1,1 2,1 2,1 2,1 1,1 2,1 2,1 2,1 2,1 1,1 2,1 2,1 2,1 2,1 1,1 2,1 2,1 2,1 2,1 1,1 2,1 2,1 2,1 2,1 2,1 1,1 2,1 2,1 2,1 2,1 2,1 2,1 1,1 2,1M488.5,24.5l0,1 1,1 0,1 1,1 0,1 2,2 0,1 1,1 0,1 1,1 0,1 1,1 0,1 1,1 0,1 1,1 0,1 1,1 0,1 2,2 0,1 1,1 0,1 1,1 0,1 1,1 0,1 2,2 0,1 1,1 0,1 1,1 0,1 2,2 0,1 1,1 0,1 1,1 0,1 2,2 0,1 1,1 0,1 2,2 0,1 1,1 0,1 2,2 0,1 1,1 0,1 2,2 0,1 2,2 0,1 1,1 0,1 2,2 0,1 2,2 0,1 2,2 0,1 2,2 0,1 2,2 0,1 2,2 0,1 2,2 0,1 2,2 0,1 2,2 0,1 2,2 0,1 3,3 0,1 2,2 0,1 2,2 0,1 3,3 0,1 3,3 0,1 2,2 0,1 3,3 0,1 3,3 0,1 4,4 0,1 3,3 0,1 3,3 0,1 4,4 0,1 4,4 0,1 5,5 0,1 4,4 0,1 6,6 0,1 5,5 0,1 7,7 0,1 8,8 0,1 11,11 0,1 20,20 0,1 16,16 2,1 20,20 2,1 10,10 2,1 8,8 2,1 7,7 2,1 5,5 2,1 5,5 2,1 4,4 2,1 4,4 2,1 4,4 2,1 3,3 2,1 4,4 2,1 3,3 2,1 3,3 2,1 2,2 2,1 3,3 2,1 2,2 2,1 3,3 2,1 2,2 2,1 2,2 2,1 2,2 2,1 2,2 2,1 2,2 2,1 2,2 2,1 1,1 2,1 2,2 2,1 2,2 2,1 1,1 2,1 2,2 2,1 2,2 2,1 1,1 2,1 1,1 2,1 2,2 2,1 1,1 2,1 1,1 2,1 2,2 2,1 1,1 2,1 1,1 2,1 1,1 2,1 1,1 2,1 2,2 2,1 1,1 2,1 1,1 2,1 1,1 2,1 1,1 2,1 1,1 2,1 1,1 2,1 1,1 2,1 2,1 1,1 2,1 1,1 2,1 1,1 2,1 1,1 2,1 1,1 2,1 2,1 1,1 2,1 1,1 2,1 1,1 2,1 2,1 1,1 2,1 1,1 2,1 2,1 1,1 2,1 1,1 2,1 2,1 1,1 2,1 1,1 2,1 2,1 1,1 2,1 2,1 1,1 2,1 2,1 1,1 2,1 1,1 2,1 2,1 1,1 2,1 2,1 2,1 1,1 2,1 2,1 1,1 2,1 2,1 1,1 2,1 2,1 2,1 1,1 2,1 2,1 1,1 2,1 2,1 2,1 1,1 2,1 2,1 2,1 1,1 2,1 2,1 2,1 1,1 2,1 2,1 2,1 1,1 2,1 2,1 2,1 2,1 1,1 2,1 2,1 2,1 2,1 1,1 2,1 2,1 2,1 2,1 2,1 1,1 2,1 2,1 2,1 2,1 2,1 2,1 1,1 2,1 2,1 2,1 2,1 2,1 2,1 2,1 1,1 2,1 2,1 2,1 2,1 2,1 2,1 2,1 2,1 2,1 1,1 2,1 2,1 2,1 2,1 2,1 2,1" stroke="#00b400" stroke-width="1"/>
<path d="M259.5,569.5l-2,-2 0,-1-2,-2 0,-1-2,-2 0,-1-1,-1 0,-1M252.5,558.5l-2,-2 0,-1-2,-2 0,-1-2,-2 0,-1-2,-2 0,-1M244.5,546.5l-2,-2 0,-1-2,-2 0,-1-2,-2 0,-1-2,-2 0,-1-1,-1M235.5,533.5l-1,-1 0,-1-2,-2 0,-1-2,-2 0,-1-2,-2 0,-1-2,-2M226.5,520.5l0,-1-2,-2 0,-1-2,-2 0,-1-2,-2 0,-1-2,-2 0,-1-1,-1M217.5,506.5l-1,-1 0,-1-2,-2 0,-1-2,-2 0,-1-2,-2 0,-1-2,-2 0,-1-1,-1M207.5,491.5l-1,-1 0,-1-2,-2 0,-1-2,-2 0,-1-2,-2 0,-1-2,-2 0,-1-2,-2M196.5,475.5l0,-1-2,-2 0,-1-2,-2 0,-1-1,-1 0,-1-2,-2 0,-1-2,-2 0,-1-2,-2M185.5,458.5l0,-1-1,-1 0,-1-2,-2 0,-1-2,-2 0,-1-2,-2 0,-1-1,-1 0,-1-2,-2 0,-1-1,-1 0,-1M174.5,439.5l-2,-2 0,-1-1,-1 0,-1-2,-2 0,-1-1,-1 0,-1-2,-2 0,-1-1,-1 0,-1-2,-2 0,-1-1,-1 0,-1M162.5,419.5l-2,-2 0,-1-1,-1 0,-1-1,-1 0,-1-2,-2 0,-1-1,-1 0,-1-1,-1 0,-1-1,-1 0,-1-2,-2 0,-1-1,-1 0,-1-1,-1M149.5,397.5l0,-1-1,-1 0,-1-1,-1 0,-1-2,-2 0,-1-1,-1 0,-1-1,-1 0,-1-1,-1 0,-1-1,-1 0,-1-1,-1 0,-1-1,-1 0,-1-1,-1 0,-1-1,-1 0,-1M137.5,373.5l-1,-1 0,-1-1,-1 0,-1-1,-1 0,-1-1,-1 0,-1-1,-1 0,-1-1,-1 0,-1-1,-1 0,-1-1,-1 0,-1-1,-1 0,-1-1,-1 0,-1-1,-1 0,-2-1,-1 0,-1-1,-1 0,-1-1,-1M123.5,345.5l0,-1-1,-1 0,-1-1,-1 0,-2-1,-1 0,-1-1,-1 0,-1-1,-1 0,-1-1,-1 0,-2-1,-1 0,-1-1,-1 0,-1-1,-1 0,-2-1,-1 0,-1-1,-1 0,-2-1,-1 0,-1-1,-1 0,-1M110.5,314.5l0,-1-1,-1 0,-1-1,-1 0,-2-1,-1 0,-1-1,-1 0,-2-1,-1 0,-1-1,-1 0,-2-1,-1 0,-2-1,-1 0,-2-1,-1 0,-1-1,-1 0,-2-1,-1 0,-2-1,-1 0,-2-1,-1 0,-1M97.5,279.5l0,-1-1,-1 0,-2-1,-1 0,-2-1,-1 0,-2-1,-1 0,-2-1,-1 0,-2-1,-1 0,-2-1,-1 0,-2-1,-1 0,-3-1,-1 0,-2-1,-1 0,-2-1,-1 0,-3-1,-1 0,-2-1,-1 0,-3M84.5,236.5l-1,-1 0,-3-1,-1 0,-2-1,-1 0,-3-1,-1 0,-3-1,-1 0,-3-1,-1 0,-3-1,-1 0,-3-1,-1 0,-4-1,-1 0,-3-1,-1 0,-4-1,-1 0,-4-1,-1 0,-4M72.5,185.5l-1,-1 0,-4-1,-1 0,-4-1,-1 0,-5-1,-1 0,-4-1,-1 0,-6-1,-1 0,-5-1,-1 0,-6-1,-1 0,-6-1,-1 0,-8-1,-1 0,-7-1,-1 0,-1M317.5,569.5l0,-1-1,-1 0,-1-1,-1 0,-1-1,-1 0,-1-1,-1 0,-1-2,-2M311.5,558.5l0,-1-1,-1 0,-1-1,-1 0,-1-1,-1 0,-1-1,-1 0,-1-1,-1 0,-1-1,-1M305.5,546.5l0,-1-2,-2 0,-1-1,-1 0,-1-1,-1 0,-1-2,-2 0,-1-1,-1 0,-1M298.5,533.5l-1,-1 0,-1-2,-2 0,-1-1,-1 0,-1-2,-2 0,-1-1,-1 0,-1-1,-1M290.5,520.5l-1,-1 0,-1-1,-1 0,-1-2,-2 0,-1-1,-1 0,-1-2,-2 0,-1-2,-2M281.5,506.5l0,-1-1,-1 0,-1-2,-2 0,-1-2,-2 0,-1-1,-1 0,-1-2,-2 0,-1-1,-1M272.5,491.5l-1,-1 0,-1-2,-2 0,-1-2,-2 0,-1-2,-2 0,-1-1,-1 0,-1-2,-2 0,-1M262.5,475.5l-2,-2 0,-1-2,-2 0,-1-2,-2 0,-1-2,-2 0,-1-2,-2 0,-1-2,-2M250.5,458.5l0,-1-2,-2 0,-1-1,-1 0,-1-2,-2 0,-1-2,-2 0,-1-2,-2 0,-1-2,-2 0,-1-1,-1M238.5,439.5l-1,-1 0,-1-2,-2 0,-1-1,-1 0,-1-2,-2 0,-1-2,-2 0,-1-2,-2 0,-1-2,-2 0,-1-1,-1M225.5,419.5l0,-1-2,-2 0,-1-2,-2 0,-1-1,-1 0,-1-2,-2 0,-1-2,-2 0,-1-1,-1 0,-1-2,-2 0,-1-1,-1 0,-1M212.5,397.5l-2,-2 0,-1-1,-1 0,-1-2,-2 0,-1-1,-1 0,-1-2,-2 0,-1-1,-1 0,-1-1,-1 0,-1-2,-2 0,-1-1,-1 0,-1-1,-1 0,-1M198.5,373.5l-2,-2 0,-1-1,-1 0,-1-1,-1 0,-1-2,-2 0,-1-1,-1 0,-1-1,-1 0,-1-1,-1 0,-1-1,-1 0,-1-2,-2 0,-1-1,-1 0,-1-1,-1 0,-1-1,-1 0,-1-1,-1M182.5,345.5l0,-1-1,-1 0,-1-1,-1 0,-1-1,-1 0,-1-1,-1 0,-1-1,-1 0,-1-1,-1 0,-1-1,-1 0,-1-1,-1 0,-1-1,-1 0,-1-1,-1 0,-1-1,-1 0,-1-1,-1 0,-1-1,-1 0,-1-1,-1 0,-1-1,-1 0,-1M167.5,314.5l-1,-1 0,-1-1,-1 0,-1-1,-1 0,-2-1,-1 0,-1-1,-1 0,-1-1,-1 0,-1-1,-1 0,-1-1,-1 0,-2-1,-1 0,-1-1,-1 0,-1-1,-1 0,-2-1,-1 0,-1-1,-1 0,-1-1,-1 0,-2-1,-1 0,-1-1,-1M151.5,279.5l0,-2-1,-1 0,-1-1,-1 0,-2-1,-1 0,-1-1,-1 0,-2-1,-1 0,-1-1,-1 0,-2-1,-1 0,-2-1,-1 0,-1-1,-1 0,-2-1,-1 0,-2-1,-1 0,-1-1,-1 0,-2-1,-1 0,-2-1,-1 0,-2-1,-1 0,-2-1,-1M135.5,236.5l0,-2-1,-1 0,-2-1,-1 0,-2-1,-1 0,-2-1,-1 0,-2-1,-1 0,-2-1,-1 0,-3-1,-1 0,-2-1,-1 0,-2-1,-1 0,-3-1,-1 0,-2-1,-1 0,-3-1,-1 0,-2-1,-1 0,-3-1,-1 0,-3-1,-1 0,-1M120.5,185.5l0,-2-1,-1 0,-3-1,-1 0,-3-1,-1 0,-3-1,-1 0,-3-1,-1 0,-3-1,-1 0,-4-1,-1 0,-4-1,-1 0,-3-1,-1 0,-4-1,-1 0,-5-1,-1 0,-4-1,-1 0,-5-1,-1 0,-4-1,-1 0,-3M375.5,569.5l0,-1-1,-1 0,-2-1,-1 0,-2-1,-1 0,-2-1,-1M371.5,558.5l0,-2-1,-1 0,-2-1,-1 0,-2-1,-1 0,-2-1,-1M367.5,546.5l0,-1-1,-1 0,-2-1,-1 0,-2-1,-1 0,-1-1,-1 0,-2-1,-1M362.5,533.5l0,-1-1,-1 0,-2-1,-1 0,-1-1,-1 0,-1-1,-1 0,-2-1,-1 0,-1M357.5,520.5l-1,-1 0,-1-1,-1 0,-1-1,-1 0,-1-1,-1 0,-2-1,-1 0,-1-1,-1 0,-1-1,-1M350.5,506.5l0,-1-1,-1 0,-1-1,-1 0,-1-1,-1 0,-1-1,-1 0,-1-1,-1 0,-1-1,-1 0,-1-1,-1 0,-1M343.5,491.5l-1,-1 0,-1-1,-1 0,-1-1,-1 0,-1-2,-2 0,-1-1,-1 0,-1-1,-1 0,-1-1,-1 0,-1-1,-1M334.5,475.5l0,-1-2,-2 0,-1-1,-1 0,-1-1,-1 0,-1-2,-2 0,-1-1,-1 0,-1-2,-2 0,-1-1,-1M324.5,458.5l0,-1-1,-1 0,-1-2,-2 0,-1-1,-1 0,-1-2,-2 0,-1-2,-2 0,-1-1,-1 0,-1-2,-2 0,-1M313.5,439.5l-1,-1 0,-1-2,-2 0,-1-2,-2 0,-1-1,-1 0,-1-2,-2 0,-1-2,-2 0,-1-1,-1 0,-1-2,-2M300.5,419.5l0,-1-2,-2 0,-1-2,-2 0,-1-1,-1 0,-1-2,-2 0,-1-2,-2 0,-1-2,-2 0,-1-1,-1 0,-1-2,-2M286.5,397.5l0,-1-2,-2 0,-1-2,-2 0,-1-1,-1 0,-1-2,-2 0,-1-2,-2 0,-1-2,-2 0,-1-1,-1 0,-1-2,-2 0,-1-1,-1M271.5,373.5l-1,-1 0,-1-1,-1 0,-1-2,-2 0,-1-1,-1 0,-1-2,-2 0,-1-2,-2 0,-1-1,-1 0,-1-2,-2 0,-1-1,-1 0,-1-2,-2 0,-1-1,-1 0,-1-1,-1M254.5,345.5l-1,-1 0,-1-1,-1 0,-1-1,-1 0,-1-2,-2 0,-1-1,-1 0,-1-2,-2 0,-1-1,-1 0,-1-1,-1 0,-1-2,-2 0,-1-1,-1 0,-1-1,-1 0,-1-1,-1 0,-1-2,-2 0,-1-1,-1M236.5,314.5l0,-1-1,-1 0,-1-1,-1 0,-1-1,-1 0,-1-1,-1 0,-1-2,-2 0,-1-1,-1 0,-1-1,-1 0,-1-1,-1 0,-1-1,-1 0,-1-1,-1 0,-1-1,-1 0,-1-1,-1 0,-1-1,-1 0,-1-1,-1 0,-1-1,-1 0,-1-1,-1 0,-1-1,-1M218.5,279.5l0,-1-1,-1 0,-1-1,-1 0,-1-1,-1 0,-1-1,-1 0,-1-1,-1 0,-1-1,-1 0,-2-1,-1 0,-1-1,-1 0,-1-1,-1 0,-1-1,-1 0,-1-1,-1 0,-1-1,-1 0,-2-1,-1 0,-1-1,-1 0,-1-1,-1 0,-2-1,-1 0,-1-1,-1 0,-1-1,-1 0,-2-1,-1 0,-1M199.5,236.5l-1,-1 0,-1-1,-1 0,-2-1,-1 0,-1-1,-1 0,-2-1,-1 0,-1-1,-1 0,-2-1,-1 0,-1-1,-1 0,-2-1,-1 0,-2-1,-1 0,-1-1,-1 0,-2-1,-1 0,-2-1,-1 0,-2-1,-1 0,-1-1,-1 0,-2-1,-1 0,-2-1,-1 0,-2-1,-1 0,-2-1,-1 0,-2M180.5,185.5l-1,-1 0,-2-1,-1 0,-2-1,-1 0,-2-1,-1 0,-2-1,-1 0,-3-1,-1 0,-2-1,-1 0,-2-1,-1 0,-2-1,-1 0,-3-1,-1 0,-3-1,-1 0,-2-1,-1 0,-3-1,-1 0,-3-1,-1 0,-2-1,-1 0,-3-1,-1 0,-3-1,-1 0,-3-1,-1 0,-4-1,-1 0,-2M433.5,569.5l0,-2-1,-1 0,-6-1,-1 0,-1M431.5,558.5l0,-5-1,-1 0,-6M430.5,546.5l-1,-1 0,-5-1,-1 0,-5-1,-1M427.5,533.5l0,-4-1,-1 0,-4-1,-1 0,-3M425.5,520.5l-1,-1 0,-4-1,-1 0,-3-1,-1 0,-3-1,-1M421.5,506.5l0,-3-1,-1 0,-3-1,-1 0,-3-1,-1 0,-2-1,-1M417.5,491.5l0,-3-1,-1 0,-2-1,-1 0,-2-1,-1 0,-2-1,-1 0,-2-1,-1M412.5,475.5l0,-2-1,-1 0,-2-1,-1 0,-2-1,-1 0,-2-1,-1 0,-1-1,-1 0,-2-1,-1M406.5,458.5l0,-2-1,-1 0,-1-1,-1 0,-2-1,-1 0,-1-1,-1 0,-2-1,-1 0,-1-1,-1 0,-1-1,-1 0,-2M399.5,439.5l-1,-1 0,-1-1,-1 0,-1-1,-1 0,-1-1,-1 0,-2-1,-1 0,-1-1,-1 0,-1-1,-1 0,-1-1,-1 0,-1-1,-1 0,-1-1,-1M389.5,419.5l0,-1-1,-1 0,-1-1,-1 0,-1-1,-1 0,-1-1,-1 0,-1-1,-1 0,-1-1,-1 0,-1-1,-1 0,-1-1,-1 0,-1-2,-2 0,-1-1,-1 0,-1M378.5,397.5l-1,-1 0,-1-1,-1 0,-1-1,-1 0,-1-2,-2 0,-1-1,-1 0,-1-1,-1 0,-1-2,-2 0,-1-1,-1 0,-1-1,-1 0,-1-2,-2 0,-1-1,-1M364.5,373.5l0,-1-2,-2 0,-1-1,-1 0,-1-2,-2 0,-1-1,-1 0,-1-2,-2 0,-1-1,-1 0,-1-2,-2 0,-1-1,-1 0,-1-2,-2 0,-1-1,-1 0,-1-2,-2M347.5,345.5l0,-1-1,-1 0,-1-2,-2 0,-1-2,-2 0,-1-1,-1 0,-1-2,-2 0,-1-1,-1 0,-1-2,-2 0,-1-2,-2 0,-1-1,-1 0,-1-2,-2 0,-1-1,-1 0,-1-2,-2M328.5,314.5l0,-1-1,-1 0,-1-2,-2 0,-1-1,-1 0,-1-2,-2 0,-1-2,-2 0,-1-1,-1 0,-1-1,-1 0,-1-2,-2 0,-1-1,-1 0,-1-2,-2 0,-1-1,-1 0,-1-2,-2 0,-1-1,-1 0,-1-1,-1 0,-1M308.5,279.5l-2,-2 0,-1-1,-1 0,-1-1,-1 0,-1-2,-2 0,-1-1,-1 0,-1-1,-1 0,-1-2,-2 0,-1-1,-1 0,-1-1,-1 0,-1-1,-1 0,-1-1,-1 0,-1-2,-2 0,-1-1,-1 0,-1-1,-1 0,-1-1,-1 0,-1-1,-1 0,-1-1,-1 0,-1-1,-1 0,-1-1,-1 0,-1-1,-1M284.5,236.5l-1,-1 0,-1-1,-1 0,-1-1,-1 0,-1-1,-1 0,-1-1,-1 0,-1-1,-1 0,-1-1,-1 0,-1-1,-1 0,-1-1,-1 0,-2-1,-1 0,-1-1,-1 0,-1-1,-1 0,-1-1,-1 0,-1-1,-1 0,-1-1,-1 0,-1-1,-1 0,-1-1,-1 0,-2-1,-1 0,-1-1,-1 0,-1-1,-1 0,-1-1,-1 0,-2-1,-1 0,-1-1,-1 0,-1-1,-1 0,-1M260.5,185.5l-1,-1 0,-2-1,-1 0,-1-1,-1 0,-1-1,-1 0,-2-1,-1 0,-1-1,-1 0,-2-1,-1 0,-1-1,-1 0,-2-1,-1 0,-1-1,-1 0,-2-1,-1 0,-1-1,-1 0,-2-1,-1 0,-2-1,-1 0,-1-1,-1 0,-2-1,-1 0,-2-1,-1 0,-2-1,-1 0,-1-1,-1 0,-2-1,-1 0,-2-1,-1 0,-2-1,-1 0,-2-1,-1 0,-2-1,-1 0,-2-1,-1 0,-2M491.5,569.5l0,-11M491.5,558.5l0,-5 1,-1 0,-6M492.5,546.5l0,-13M492.5,533.5l0,-13M492.5,520.5l0,-14M492.5,506.5l0,-15M492.5,491.5l0,-1-1,-1 0,-14M491.5,475.5l0,-3-1,-1 0,-11-1,-1 0,-1M489.5,458.5l0,-8-1,-1 0,-8-1,-1 0,-1M487.5,439.5l0,-5-1,-1 0,-6-1,-1 0,-5-1,-1 0,-1M484.5,419.5l0,-3-1,-1 0,-4-1,-1 0,-4-1,-1 0,-4-1,-1 0,-3M480.5,397.5l-1,-1 0,-3-1,-1 0,-3-1,-1 0,-3-1,-1 0,-2-1,-1 0,-3-1,-1 0,-2-1,-1 0,-1M473.5,373.5l0,-2-1,-1 0,-2-1,-1 0,-2-1,-1 0,-2-1,-1 0,-2-1,-1 0,-2-1,-1 0,-1-1,-1 0,-2-1,-1 0,-2-1,-1 0,-1-1,-1M463.5,345.5l0,-2-1,-1 0,-1-1,-1 0,-2-1,-1 0,-1-1,-1 0,-2-1,-1 0,-1-1,-1 0,-1-1,-1 0,-1-1,-1 0,-2-1,-1 0,-1-1,-1 0,-1-1,-1 0,-1-1,-1 0,-1-1,-1 0,-1M450.5,314.5l-1,-1 0,-1-1,-1 0,-2-1,-1 0,-1-1,-1 0,-1-1,-1 0,-1-1,-1 0,-1-2,-2 0,-1-1,-1 0,-1-1,-1 0,-1-1,-1 0,-1-1,-1 0,-1-1,-1 0,-1-1,-1 0,-1-1,-1 0,-1-2,-2 0,-1-1,-1 0,-1M432.5,279.5l-1,-1 0,-1-1,-1 0,-1-2,-2 0,-1-1,-1 0,-1-1,-1 0,-1-1,-1 0,-1-2,-2 0,-1-1,-1 0,-1-1,-1 0,-1-2,-2 0,-1-1,-1 0,-1-1,-1 0,-1-2,-2 0,-1-1,-1 0,-1-2,-2 0,-1-1,-1 0,-1-1,-1 0,-1-2,-2 0,-1-1,-1M407.5,236.5l0,-1-2,-2 0,-1-1,-1 0,-1-1,-1 0,-1-2,-2 0,-1-1,-1 0,-1-2,-2 0,-1-1,-1 0,-1-1,-1 0,-1-2,-2 0,-1-1,-1 0,-1-1,-1 0,-1-2,-2 0,-1-1,-1 0,-1-1,-1 0,-1-2,-2 0,-1-1,-1 0,-1-1,-1 0,-1-2,-2 0,-1-1,-1 0,-1-1,-1 0,-1-1,-1 0,-1-1,-1M378.5,185.5l-1,-1 0,-1-1,-1 0,-1-1,-1 0,-1-1,-1 0,-1-1,-1 0,-1-2,-2 0,-1-1,-1 0,-1-1,-1 0,-1-1,-1 0,-1-1,-1 0,-1-1,-1 0,-1-1,-1 0,-1-1,-1 0,-1-1,-1 0,-1-1,-1 0,-1-1,-1 0,-1-1,-1 0,-1-2,-2 0,-1-1,-1 0,-2-1,-1 0,-1-1,-1 0,-1-1,-1 0,-1-1,-1 0,-1-1,-1 0,-1-1,-1 0,-1-1,-1 0,-1-1,-1 0,-1-1,-1 0,-1-1,-1 0,-1-1,-1 0,-2-1,-1 0,-1-1,-1M549.5,569.5l1,-1 0,-5 1,-1 0,-4M551.5,558.5l0,-1 1,-1 0,-6 1,-1 0,-3M553.5,546.5l0,-3 1,-1 0,-6 1,-1 0,-2M555.5,533.5l0,-4 1,-1 0,-5 1,-1 0,-2M557.5,520.5l0,-4 1,-1 0,-6 1,-1 0,-2M559.5,506.5l0,-3 1,-1 0,-6 1,-1 0,-4M561.5,491.5l0,-2 1,-1 0,-6 1,-1 0,-5 1,-1M564.5,475.5l0,-6 1,-1 0,-5 1,-1 0,-4M566.5,458.5l0,-2 1,-1 0,-6 1,-1 0,-6 1,-1 0,-2M569.5,439.5l0,-4 1,-1 0,-7 1,-1 0,-6 1,-1M572.5,419.5l0,-7 1,-1 0,-8 1,-1 0,-5M574.5,397.5l0,-4 1,-1 0,-10 1,-1 0,-8M576.5,373.5l0,-5 1,-1 0,-22M577.5,345.5l0,-1 1,-1 0,-16-1,-1 0,-12M577.5,314.5l0,-9-1,-1 0,-10-1,-1 0,-8-1,-1 0,-5M574.5,279.5l0,-1-1,-1 0,-5-1,-1 0,-5-1,-1 0,-4-1,-1 0,-4-1,-1 0,-3-1,-1 0,-3-1,-1 0,-3-1,-1 0,-3-1,-1 0,-3M565.5,236.5l-1,-1 0,-2-1,-1 0,-3-1,-1 0,-2-1,-1 0,-2-1,-1 0,-2-1,-1 0,-2-1,-1 0,-2-1,-1 0,-2-1,-1 0,-2-1,-1 0,-2-1,-1 0,-1-1,-1 0,-2-1,-1 0,-2-1,-1 0,-1-1,-1 0,-2-1,-1 0,-1-1,-1 0,-2-1,-1 0,-1M547.5,185.5l-1,-1 0,-1-1,-1 0,-2-1,-1 0,-1-1,-1 0,-1-1,-1 0,-2-1,-1 0,-1-1,-1 0,-1-1,-1 0,-1-1,-1 0,-1-1,-1 0,-2-1,-1 0,-1-1,-1 0,-1-1,-1 0,-1-1,-1 0,-1-1,-1 0,-1-1,-1 0,-1-1,-1 0,-1-1,-1 0,-1-1,-1 0,-1-1,-1 0,-1-1,-1 0,-1-1,-1 0,-1-1,-1 0,-1-1,-1 0,-1-1,-1 0,-1-1,-1 0,-1-1,-1 0,-1-1,-1 0,-1-1,-1 0,-1-1,-1 0,-1-1,-1 0,-1-1,-1 0,-1M609.5,569.5l0,-3 1,-1 0,-3 1,-1 0,-3M611.5,558.5l0,-1 1,-1 0,-3 1,-1 0,-3 1,-1 0,-2M614.5,546.5l0,-1 1,-1 0,-3 1,-1 0,-3 1,-1 0,-3M617.5,533.5l1,-1 0,-3 1,-1 0,-3 1,-1 0,-3 1,-1M621.5,520.5l0,-3 1,-1 0,-3 1,-1 0,-3 1,-1 0,-2M624.5,506.5l0,-1 1,-1 0,-3 1,-1 0,-3 1,-1 0,-3 1,-1 0,-1M628.5,491.5l0,-2 1,-1 0,-3 1,-1 0,-3 1,-1 0,-2 1,-1 0,-2M632.5,475.5l0,-1 1,-1 0,-3 1,-1 0,-3 1,-1 0,-3 1,-1 0,-3M636.5,458.5l1,-1 0,-3 1,-1 0,-3 1,-1 0,-2 1,-1 0,-3 1,-1 0,-3M641.5,439.5l1,-1 0,-3 1,-1 0,-3 1,-1 0,-3 1,-1 0,-3 1,-1 0,-2 1,-1M647.5,419.5l0,-3 1,-1 0,-3 1,-1 0,-3 1,-1 0,-3 1,-1 0,-3 1,-1 0,-2M652.5,397.5l1,-1 0,-3 1,-1 0,-3 1,-1 0,-3 1,-1 0,-3 1,-1 0,-3 1,-1 0,-3M658.5,373.5l1,-1 0,-3 1,-1 0,-2 1,-1 0,-3 1,-1 0,-3 1,-1 0,-3 1,-1 0,-3 1,-1 0,-3 1,-1M666.5,345.5l0,-3 1,-1 0,-3 1,-1 0,-3 1,-1 0,-3 1,-1 0,-3 1,-1 0,-3 1,-1 0,-3 1,-1 0,-3M673.5,314.5l1,-1 0,-3 1,-1 0,-3 1,-1 0,-3 1,-1 0,-4 1,-1 0,-3 1,-1 0,-3 1,-1 0,-3 1,-1 0,-4 1,-1M682.5,279.5l0,-3 1,-1 0,-3 1,-1 0,-4 1,-1 0,-3 1,-1 0,-4 1,-1 0,-3 1,-1 0,-4 1,-1 0,-4 1,-1 0,-3 1,-1 0,-3M691.5,236.5l0,-1 1,-1 0,-4 1,-1 0,-4 1,-1 0,-4 1,-1 0,-4 1,-1 0,-5 1,-1 0,-4 1,-1 0,-5 1,-1 0,-5 1,-1 0,-5 1,-1M701.5,185.5l0,-5 1,-1 0,-5 1,-1 0,-7 1,-1 0,-6 1,-1 0,-7 1,-1 0,-8 1,-1 0,-9 1,-1 0,-12 1,-1" stroke="#00bebe" stroke-width="1" stroke-dasharray="6.3 5.9"/>
<path d="M114.5,569.5l0,-1 3,-3 0,-1 3,-3 0,-1 2,-2M122.5,558.5l1,-1 0,-1 3,-3 0,-1 3,-3 0,-1 2,-2M131.5,546.5l2,-2 0,-1 3,-3 0,-1 3,-3 0,-1 2,-2M141.5,533.5l1,-1 0,-1 3,-3 0,-1 3,-3 0,-1 3,-3M151.5,520.5l0,-1 3,-3 0,-1 3,-3 0,-1 4,-4 0,-1M161.5,506.5l3,-3 0,-1 3,-3 0,-1 3,-3 0,-1 3,-3M173.5,491.5l0,-1 3,-3 0,-1 4,-4 0,-1 3,-3 0,-1 2,-2M185.5,475.5l1,-1 0,-1 3,-3 0,-1 3,-3 0,-1 4,-4 0,-1 2,-2M198.5,458.5l1,-1 0,-1 3,-3 0,-1 3,-3 0,-1 3,-3 0,-1 4,-4 0,-1M212.5,439.5l3,-3 0,-1 3,-3 0,-1 4,-4 0,-1 3,-3 0,-1 3,-3M228.5,419.5l0,-1 3,-3 0,-1 4,-4 0,-1 3,-3 0,-1 3,-3 0,-1 4,-4M245.5,397.5l0,-1 3,-3 0,-1 3,-3 0,-1 4,-4 0,-1 3,-3 0,-1 3,-3 0,-1 2,-2M263.5,373.5l2,-2 0,-1 3,-3 0,-1 3,-3 0,-1 4,-4 0,-1 3,-3 0,-1 4,-4 0,-1 3,-3M285.5,345.5l0,-1 3,-3 0,-1 4,-4 0,-1 3,-3 0,-1 4,-4 0,-1 3,-3 0,-1 3,-3 0,-1 4,-4M309.5,314.5l0,-1 3,-3 0,-1 4,-4 0,-1 3,-3 0,-1 4,-4 0,-1 3,-3 0,-1 4,-4 0,-1 3,-3 0,-1 3,-3M336.5,279.5l1,-1 0,-1 3,-3 0,-1 4,-4 0,-1 3,-3 0,-1 4,-4 0,-1 3,-3 0,-1 4,-4 0,-1 3,-3 0,-1 4,-4 0,-1 4,-4 0,-1M369.5,236.5l3,-3 0,-1 4,-4 0,-1 3,-3 0,-1 4,-4 0,-1 4,-4 0,-1 3,-3 0,-1 4,-4 0,-1 3,-3 0,-1 4,-4 0,-1 4,-4 0,-1 3,-3 0,-1 1,-1M409.5,185.5l3,-3 0,-1 4,-4 0,-1 3,-3 0,-1 4,-4 0,-1 4,-4 0,-1 3,-3 0,-1 4,-4 0,-1 4,-4 0,-1 4,-4 0,-1 3,-3 0,-1 4,-4 0,-1 4,-4 0,-1 4,-4 0,-1 3,-3 0,-1 2,-2M155.5,569.5l0,-1 3,-3 0,-1 3,-3 0,-1 2,-2M163.5,558.5l0,-1 3,-3 0,-1 3,-3 0,-1 3,-3M172.5,546.5l0,-1 3,-3 0,-1 2,-2 0,-1 3,-3 0,-1 1,-1M181.5,533.5l2,-2 0,-1 3,-3 0,-1 3,-3 0,-1 2,-2M191.5,520.5l1,-1 0,-1 3,-3 0,-1 3,-3 0,-1 2,-2 0,-1 1,-1M201.5,506.5l2,-2 0,-1 3,-3 0,-1 3,-3 0,-1 3,-3 0,-1M212.5,491.5l3,-3 0,-1 3,-3 0,-1 3,-3 0,-1 3,-3 0,-1M224.5,475.5l3,-3 0,-1 3,-3 0,-1 3,-3 0,-1 3,-3 0,-1 1,-1M237.5,458.5l2,-2 0,-1 3,-3 0,-1 3,-3 0,-1 3,-3 0,-1 3,-3 0,-1M251.5,439.5l3,-3 0,-1 3,-3 0,-1 3,-3 0,-1 3,-3 0,-1 3,-3 0,-1M266.5,419.5l3,-3 0,-1 3,-3 0,-1 3,-3 0,-1 3,-3 0,-1 3,-3 0,-1 2,-2M283.5,397.5l1,-1 0,-1 3,-3 0,-1 3,-3 0,-1 3,-3 0,-1 3,-3 0,-1 3,-3 0,-1 2,-2M301.5,373.5l1,-1 0,-1 4,-4 0,-1 3,-3 0,-1 3,-3 0,-1 3,-3 0,-1 3,-3 0,-1 3,-3 0,-1 1,-1M322.5,345.5l2,-2 0,-1 3,-3 0,-1 4,-4 0,-1 3,-3 0,-1 3,-3 0,-1 3,-3 0,-1 3,-3 0,-1 3,-3M346.5,314.5l1,-1 0,-1 3,-3 0,-1 3,-3 0,-1 3,-3 0,-1 3,-3 0,-1 4,-4 0,-1 3,-3 0,-1 3,-3 0,-1 3,-3 0,-1M372.5,279.5l4,-4 0,-1 3,-3 0,-1 3,-3 0,-1 3,-3 0,-1 4,-4 0,-1 3,-3 0,-1 3,-3 0,-1 4,-4 0,-1 3,-3 0,-1 3,-3 0,-1M405.5,236.5l4,-4 0,-1 3,-3 0,-1 3,-3 0,-1 4,-4 0,-1 3,-3 0,-1 3,-3 0,-1 4,-4 0,-1 3,-3 0,-1 3,-3 0,-1 4,-4 0,-1 3,-3 0,-1 3,-3M445.5,185.5l1,-1 0,-1 3,-3 0,-1 3,-3 0,-1 4,-4 0,-1 3,-3 0,-1 4,-4 0,-1 3,-3 0,-1 4,-4 0,-1 3,-3 0,-1 3,-3 0,-1 4,-4 0,-1 3,-3 0,-1 4,-4 0,-1 3,-3 0,-1 4,-4 0,-1 3,-3M225.5,569.5l2,-2 0,-1 3,-3 0,-1 2,-2 0,-1 1,-1M233.5,558.5l2,-2 0,-1 2,-2 0,-1 2,-2 0,-1 3,-3M242.5,546.5l0,-1 2,-2 0,-1 3,-3 0,-1 2,-2 0,-1 2,-2M251.5,533.5l1,-1 0,-1 2,-2 0,-1 3,-3 0,-1 2,-2 0,-1 1,-1M260.5,520.5l2,-2 0,-1 2,-2 0,-1 3,-3 0,-1 2,-2 0,-1 1,-1M270.5,506.5l2,-2 0,-1 2,-2 0,-1 3,-3 0,-1 2,-2 0,-1 2,-2M281.5,491.5l1,-1 0,-1 2,-2 0,-1 3,-3 0,-1 2,-2 0,-1 3,-3 0,-1M292.5,475.5l2,-2 0,-1 3,-3 0,-1 2,-2 0,-1 3,-3 0,-1 3,-3M305.5,458.5l0,-1 2,-2 0,-1 3,-3 0,-1 2,-2 0,-1 3,-3 0,-1 3,-3 0,-1M318.5,439.5l2,-2 0,-1 3,-3 0,-1 2,-2 0,-1 3,-3 0,-1 3,-3 0,-1 2,-2M333.5,419.5l0,-1 3,-3 0,-1 3,-3 0,-1 2,-2 0,-1 3,-3 0,-1 3,-3 0,-1 2,-2M349.5,397.5l0,-1 3,-3 0,-1 3,-3 0,-1 2,-2 0,-1 3,-3 0,-1 3,-3 0,-1 2,-2 0,-1 1,-1M366.5,373.5l2,-2 0,-1 3,-3 0,-1 3,-3 0,-1 2,-2 0,-1 3,-3 0,-1 3,-3 0,-1 2,-2 0,-1 3,-3M387.5,345.5l0,-1 3,-3 0,-1 3,-3 0,-1 2,-2 0,-1 3,-3 0,-1 3,-3 0,-1 3,-3 0,-1 3,-3 0,-1 2,-2 0,-1M409.5,314.5l3,-3 0,-1 3,-3 0,-1 3,-3 0,-1 3,-3 0,-1 2,-2 0,-1 3,-3 0,-1 3,-3 0,-1 3,-3 0,-1 3,-3 0,-1M435.5,279.5l3,-3 0,-1 3,-3 0,-1 2,-2 0,-1 3,-3 0,-1 3,-3 0,-1 3,-3 0,-1 3,-3 0,-1 3,-3 0,-1 3,-3 0,-1 3,-3 0,-1 3,-3 0,-1M467.5,236.5l2,-2 0,-1 3,-3 0,-1 3,-3 0,-1 3,-3 0,-1 3,-3 0,-1 3,-3 0,-1 3,-3 0,-1 3,-3 0,-1 3,-3 0,-1 3,-3 0,-1 3,-3 0,-1 3,-3 0,-1 3,-3 0,-1M505.5,185.5l3,-3 0,-1 3,-3 0,-1 3,-3 0,-1 3,-3 0,-1 3,-3 0,-1 3,-3 0,-1 3,-3 0,-1 3,-3 0,-1 3,-3 0,-1 3,-3 0,-1 3,-3 0,-1 3,-3 0,-1 4,-4 0,-1 3,-3 0,-1 3,-3 0,-1 3,-3 0,-1 2,-2M261.5,569.5l1,-1 0,-1 2,-2 0,-1 2,-2 0,-1 3,-3M269.5,558.5l0,-1 2,-2 0,-1 2,-2 0,-1 2,-2 0,-1 2,-2M277.5,546.5l1,-1 0,-1 2,-2 0,-1 2,-2 0,-1 3,-3 0,-1 1,-1M286.5,533.5l1,-1 0,-1 2,-2 0,-1 2,-2 0,-1 3,-3 0,-1 1,-1M295.5,520.5l1,-1 0,-1 2,-2 0,-1 3,-3 0,-1 2,-2 0,-1 2,-2M305.5,506.5l0,-1 3,-3 0,-1 2,-2 0,-1 2,-2 0,-1 3,-3 0,-1M315.5,491.5l2,-2 0,-1 2,-2 0,-1 3,-3 0,-1 2,-2 0,-1 2,-2 0,-1M326.5,475.5l3,-3 0,-1 2,-2 0,-1 3,-3 0,-1 2,-2 0,-1 2,-2 0,-1M338.5,458.5l3,-3 0,-1 2,-2 0,-1 3,-3 0,-1 2,-2 0,-1 2,-2 0,-1 2,-2M352.5,439.5l1,-1 0,-1 2,-2 0,-1 3,-3 0,-1 2,-2 0,-1 3,-3 0,-1 2,-2 0,-1 1,-1M366.5,419.5l1,-1 0,-1 3,-3 0,-1 2,-2 0,-1 3,-3 0,-1 2,-2 0,-1 3,-3 0,-1 2,-2M382.5,397.5l0,-1 3,-3 0,-1 2,-2 0,-1 3,-3 0,-1 2,-2 0,-1 3,-3 0,-1 2,-2 0,-1 2,-2M399.5,373.5l1,-1 0,-1 2,-2 0,-1 3,-3 0,-1 3,-3 0,-1 2,-2 0,-1 3,-3 0,-1 2,-2 0,-1 3,-3 0,-1 1,-1M419.5,345.5l1,-1 0,-1 3,-3 0,-1 2,-2 0,-1 3,-3 0,-1 3,-3 0,-1 2,-2 0,-1 3,-3 0,-1 2,-2 0,-1 3,-3 0,-1M441.5,314.5l3,-3 0,-1 2,-2 0,-1 3,-3 0,-1 3,-3 0,-1 2,-2 0,-1 3,-3 0,-1 3,-3 0,-1 2,-2 0,-1 3,-3 0,-1 2,-2M467.5,279.5l0,-1 3,-3 0,-1 3,-3 0,-1 3,-3 0,-1 2,-2 0,-1 3,-3 0,-1 3,-3 0,-1 2,-2 0,-1 3,-3 0,-1 3,-3 0,-1 2,-2 0,-1 3,-3 0,-1 1,-1M498.5,236.5l2,-2 0,-1 3,-3 0,-1 2,-2 0,-1 3,-3 0,-1 3,-3 0,-1 3,-3 0,-1 3,-3 0,-1 2,-2 0,-1 3,-3 0,-1 3,-3 0,-1 3,-3 0,-1 2,-2 0,-1 3,-3 0,-1 3,-3M536.5,185.5l0,-1 3,-3 0,-1 3,-3 0,-1 3,-3 0,-1 2,-2 0,-1 3,-3 0,-1 3,-3 0,-1 3,-3 0,-1 3,-3 0,-1 3,-3 0,-1 3,-3 0,-1 2,-2 0,-1 3,-3 0,-1 3,-3 0,-1 3,-3 0,-1 3,-3 0,-1 3,-3 0,-1 3,-3 0,-1M312.5,569.5l2,-2 0,-1 2,-2 0,-1 2,-2 0,-1 2,-2M320.5,558.5l0,-1 2,-2 0,-1 2,-2 0,-1 2,-2 0,-1 2,-2M328.5,546.5l0,-1 2,-2 0,-1 2,-2 0,-1 2,-2 0,-1 3,-3M337.5,533.5l0,-1 2,-2 0,-1 2,-2 0,-1 2,-2 0,-1 2,-2 0,-1M345.5,520.5l2,-2 0,-1 2,-2 0,-1 2,-2 0,-1 2,-2 0,-1 2,-2M355.5,506.5l0,-1 2,-2 0,-1 2,-2 0,-1 2,-2 0,-1 3,-3 0,-1 1,-1M365.5,491.5l1,-1 0,-1 2,-2 0,-1 2,-2 0,-1 2,-2 0,-1 2,-2 0,-1 2,-2M376.5,475.5l0,-1 2,-2 0,-1 3,-3 0,-1 2,-2 0,-1 2,-2 0,-1 2,-2 0,-1M387.5,458.5l2,-2 0,-1 2,-2 0,-1 3,-3 0,-1 2,-2 0,-1 2,-2 0,-1 2,-2 0,-1M400.5,439.5l2,-2 0,-1 2,-2 0,-1 3,-3 0,-1 2,-2 0,-1 2,-2 0,-1 2,-2 0,-1 1,-1M414.5,419.5l2,-2 0,-1 2,-2 0,-1 2,-2 0,-1 2,-2 0,-1 2,-2 0,-1 3,-3 0,-1 2,-2 0,-1M429.5,397.5l2,-2 0,-1 2,-2 0,-1 3,-3 0,-1 2,-2 0,-1 2,-2 0,-1 3,-3 0,-1 2,-2 0,-1 1,-1M446.5,373.5l1,-1 0,-1 2,-2 0,-1 3,-3 0,-1 2,-2 0,-1 2,-2 0,-1 3,-3 0,-1 2,-2 0,-1 2,-2 0,-1 3,-3M466.5,345.5l0,-1 2,-2 0,-1 2,-2 0,-1 3,-3 0,-1 2,-2 0,-1 2,-2 0,-1 3,-3 0,-1 2,-2 0,-1 2,-2 0,-1 3,-3 0,-1M487.5,314.5l2,-2 0,-1 2,-2 0,-1 3,-3 0,-1 2,-2 0,-1 3,-3 0,-1 2,-2 0,-1 2,-2 0,-1 3,-3 0,-1 2,-2 0,-1 3,-3 0,-1 1,-1M512.5,279.5l1,-1 0,-1 3,-3 0,-1 2,-2 0,-1 2,-2 0,-1 3,-3 0,-1 2,-2 0,-1 3,-3 0,-1 2,-2 0,-1 3,-3 0,-1 2,-2 0,-1 3,-3 0,-1 2,-2 0,-1 3,-3M543.5,236.5l0,-1 2,-2 0,-1 3,-3 0,-1 2,-2 0,-1 3,-3 0,-1 2,-2 0,-1 3,-3 0,-1 2,-2 0,-1 3,-3 0,-1 2,-2 0,-1 3,-3 0,-1 2,-2 0,-1 3,-3 0,-1 2,-2 0,-1 3,-3 0,-1 1,-1M579.5,185.5l2,-2 0,-1 2,-2 0,-1 3,-3 0,-1 2,-2 0,-1 3,-3 0,-1 3,-3 0,-1 2,-2 0,-1 3,-3 0,-1 2,-2 0,-1 3,-3 0,-1 3,-3 0,-1 2,-2 0,-1 3,-3 0,-1 2,-2 0,-1 3,-3 0,-1 3,-3 0,-1 2,-2 0,-1 3,-3 0,-1 3,-3M344.5,569.5l2,-2 0,-1 2,-2 0,-1 2,-2 0,-1 2,-2M352.5,558.5l0,-1 1,-1 0,-1 2,-2 0,-1 2,-2 0,-1 2,-2 0,-1M359.5,546.5l2,-2 0,-1 2,-2 0,-1 2,-2 0,-1 2,-2 0,-1 1,-1M368.5,533.5l1,-1 0,-1 2,-2 0,-1 1,-1 0,-1 2,-2 0,-1 2,-2 0,-1M376.5,520.5l2,-2 0,-1 2,-2 0,-1 2,-2 0,-1 2,-2 0,-1 2,-2M386.5,506.5l0,-1 2,-2 0,-1 2,-2 0,-1 2,-2 0,-1 2,-2 0,-1 2,-2M396.5,491.5l0,-1 2,-2 0,-1 2,-2 0,-1 2,-2 0,-1 2,-2 0,-1 2,-2 0,-1M406.5,475.5l2,-2 0,-1 2,-2 0,-1 2,-2 0,-1 2,-2 0,-1 2,-2 0,-1 2,-2M418.5,458.5l0,-1 2,-2 0,-1 2,-2 0,-1 2,-2 0,-1 2,-2 0,-1 2,-2 0,-1 2,-2 0,-1M430.5,439.5l2,-2 0,-1 2,-2 0,-1 2,-2 0,-1 2,-2 0,-1 2,-2 0,-1 3,-3 0,-1 1,-1M444.5,419.5l1,-1 0,-1 2,-2 0,-1 2,-2 0,-1 2,-2 0,-1 2,-2 0,-1 2,-2 0,-1 2,-2 0,-1 2,-2M459.5,397.5l0,-1 2,-2 0,-1 3,-3 0,-1 2,-2 0,-1 2,-2 0,-1 2,-2 0,-1 2,-2 0,-1 2,-2 0,-1 1,-1M475.5,373.5l1,-1 0,-1 3,-3 0,-1 2,-2 0,-1 2,-2 0,-1 2,-2 0,-1 2,-2 0,-1 2,-2 0,-1 3,-3 0,-1 2,-2 0,-1M494.5,345.5l2,-2 0,-1 2,-2 0,-1 2,-2 0,-1 2,-2 0,-1 3,-3 0,-1 2,-2 0,-1 2,-2 0,-1 2,-2 0,-1 3,-3 0,-1 2,-2M516.5,314.5l0,-1 2,-2 0,-1 2,-2 0,-1 3,-3 0,-1 2,-2 0,-1 2,-2 0,-1 2,-2 0,-1 3,-3 0,-1 2,-2 0,-1 2,-2 0,-1 2,-2 0,-1 2,-2M540.5,279.5l1,-1 0,-1 2,-2 0,-1 2,-2 0,-1 3,-3 0,-1 2,-2 0,-1 2,-2 0,-1 3,-3 0,-1 2,-2 0,-1 2,-2 0,-1 2,-2 0,-1 3,-3 0,-1 2,-2 0,-1 3,-3 0,-1 1,-1M570.5,236.5l1,-1 0,-1 2,-2 0,-1 3,-3 0,-1 2,-2 0,-1 2,-2 0,-1 3,-3 0,-1 2,-2 0,-1 2,-2 0,-1 3,-3 0,-1 2,-2 0,-1 3,-3 0,-1 2,-2 0,-1 2,-2 0,-1 3,-3 0,-1 2,-2 0,-1 2,-2M606.5,185.5l1,-1 0,-1 2,-2 0,-1 3,-3 0,-1 2,-2 0,-1 2,-2 0,-1 3,-3 0,-1 2,-2 0,-1 3,-3 0,-1 2,-2 0,-1 3,-3 0,-1 2,-2 0,-1 3,-3 0,-1 2,-2 0,-1 3,-3 0,-1 2,-2 0,-1 3,-3 0,-1 2,-2 0,-1 3,-3 0,-1 2,-2 0,-1 3,-3M368.5,569.5l0,-1 2,-2 0,-1 2,-2 0,-1 2,-2 0,-1 1,-1M375.5,558.5l1,-1 0,-1 1,-1 0,-1 2,-2 0,-1 2,-2 0,-1 2,-2M383.5,546.5l0,-1 2,-2 0,-1 1,-1 0,-1 2,-2 0,-1 2,-2 0,-1 1,-1M391.5,533.5l1,-1 0,-1 2,-2 0,-1 2,-2 0,-1 1,-1 0,-1 2,-2 0,-1M399.5,520.5l2,-2 0,-1 2,-2 0,-1 2,-2 0,-1 2,-2 0,-1 1,-1 0,-1M408.5,506.5l2,-2 0,-1 2,-2 0,-1 2,-2 0,-1 2,-2 0,-1 2,-2 0,-1M418.5,491.5l2,-2 0,-1 2,-2 0,-1 1,-1 0,-1 2,-2 0,-1 2,-2 0,-1 2,-2M429.5,475.5l0,-1 2,-2 0,-1 2,-2 0,-1 2,-2 0,-1 2,-2 0,-1 2,-2 0,-1 1,-1M440.5,458.5l1,-1 0,-1 2,-2 0,-1 2,-2 0,-1 2,-2 0,-1 1,-1 0,-1 2,-2 0,-1 2,-2 0,-1M452.5,439.5l2,-2 0,-1 2,-2 0,-1 2,-2 0,-1 2,-2 0,-1 2,-2 0,-1 2,-2 0,-1 2,-2M466.5,419.5l0,-1 2,-2 0,-1 2,-2 0,-1 2,-2 0,-1 2,-2 0,-1 2,-2 0,-1 2,-2 0,-1 2,-2 0,-1M480.5,397.5l2,-2 0,-1 2,-2 0,-1 2,-2 0,-1 2,-2 0,-1 2,-2 0,-1 2,-2 0,-1 2,-2 0,-1 2,-2 0,-1M496.5,373.5l3,-3 0,-1 2,-2 0,-1 2,-2 0,-1 2,-2 0,-1 2,-2 0,-1 2,-2 0,-1 2,-2 0,-1 2,-2 0,-1 2,-2 0,-1M515.5,345.5l2,-2 0,-1 2,-2 0,-1 2,-2 0,-1 2,-2 0,-1 3,-3 0,-1 2,-2 0,-1 2,-2 0,-1 2,-2 0,-1 2,-2 0,-1 2,-2 0,-1M536.5,314.5l2,-2 0,-1 3,-3 0,-1 2,-2 0,-1 2,-2 0,-1 2,-2 0,-1 2,-2 0,-1 2,-2 0,-1 2,-2 0,-1 3,-3 0,-1 2,-2 0,-1 2,-2 0,-1M560.5,279.5l2,-2 0,-1 2,-2 0,-1 3,-3 0,-1 2,-2 0,-1 2,-2 0,-1 2,-2 0,-1 2,-2 0,-1 3,-3 0,-1 2,-2 0,-1 2,-2 0,-1 2,-2 0,-1 3,-3 0,-1 2,-2 0,-1 1,-1M590.5,236.5l1,-1 0,-1 2,-2 0,-1 3,-3 0,-1 2,-2 0,-1 2,-2 0,-1 2,-2 0,-1 3,-3 0,-1 2,-2 0,-1 2,-2 0,-1 3,-3 0,-1 2,-2 0,-1 2,-2 0,-1 3,-3 0,-1 2,-2 0,-1 2,-2 0,-1 2,-2 0,-1M625.5,185.5l3,-3 0,-1 2,-2 0,-1 2,-2 0,-1 3,-3 0,-1 2,-2 0,-1 3,-3 0,-1 2,-2 0,-1 2,-2 0,-1 3,-3 0,-1 2,-2 0,-1 2,-2 0,-1 3,-3 0,-1 2,-2 0,-1 3,-3 0,-1 2,-2 0,-1 2,-2 0,-1 3,-3 0,-1 2,-2 0,-1 3,-3 0,-1 2,-2M387.5,569.5l0,-1 1,-1 0,-1 2,-2 0,-1 2,-2 0,-1 2,-2M394.5,558.5l0,-1 1,-1 0,-1 2,-2 0,-1 2,-2 0,-1 2,-2 0,-1M401.5,546.5l1,-1 0,-1 2,-2 0,-1 2,-2 0,-1 1,-1 0,-1 2,-2 0,-1M409.5,533.5l2,-2 0,-1 2,-2 0,-1 2,-2 0,-1 1,-1 0,-1 2,-2M418.5,520.5l0,-1 2,-2 0,-1 2,-2 0,-1 1,-1 0,-1 2,-2 0,-1 2,-2M427.5,506.5l0,-1 2,-2 0,-1 2,-2 0,-1 1,-1 0,-1 2,-2 0,-1 2,-2 0,-1M436.5,491.5l2,-2 0,-1 2,-2 0,-1 1,-1 0,-1 2,-2 0,-1 2,-2 0,-1 2,-2M447.5,475.5l0,-1 2,-2 0,-1 2,-2 0,-1 1,-1 0,-1 2,-2 0,-1 2,-2 0,-1 2,-2M458.5,458.5l0,-1 2,-2 0,-1 2,-2 0,-1 2,-2 0,-1 1,-1 0,-1 2,-2 0,-1 2,-2 0,-1 1,-1M470.5,439.5l1,-1 0,-1 2,-2 0,-1 2,-2 0,-1 2,-2 0,-1 2,-2 0,-1 2,-2 0,-1 1,-1 0,-1 1,-1M483.5,419.5l1,-1 0,-1 2,-2 0,-1 2,-2 0,-1 2,-2 0,-1 2,-2 0,-1 2,-2 0,-1 2,-2 0,-1 2,-2M498.5,397.5l0,-1 2,-2 0,-1 2,-2 0,-1 2,-2 0,-1 2,-2 0,-1 2,-2 0,-1 2,-2 0,-1 2,-2 0,-1 2,-2M514.5,373.5l0,-1 2,-2 0,-1 2,-2 0,-1 2,-2 0,-1 2,-2 0,-1 1,-1 0,-1 2,-2 0,-1 3,-3 0,-1 2,-2 0,-1 2,-2 0,-1M532.5,345.5l2,-2 0,-1 2,-2 0,-1 2,-2 0,-1 2,-2 0,-1 2,-2 0,-1 2,-2 0,-1 2,-2 0,-1 2,-2 0,-1 2,-2 0,-1 2,-2 0,-1 1,-1M553.5,314.5l1,-1 0,-1 2,-2 0,-1 2,-2 0,-1 2,-2 0,-1 2,-2 0,-1 2,-2 0,-1 2,-2 0,-1 3,-3 0,-1 2,-2 0,-1 2,-2 0,-1 2,-2 0,-1 2,-2M577.5,279.5l0,-1 2,-2 0,-1 2,-2 0,-1 2,-2 0,-1 2,-2 0,-1 3,-3 0,-1 2,-2 0,-1 2,-2 0,-1 2,-2 0,-1 2,-2 0,-1 2,-2 0,-1 2,-2 0,-1 3,-3 0,-1 2,-2 0,-1 1,-1M606.5,236.5l1,-1 0,-1 2,-2 0,-1 2,-2 0,-1 3,-3 0,-1 2,-2 0,-1 2,-2 0,-1 2,-2 0,-1 2,-2 0,-1 3,-3 0,-1 2,-2 0,-1 2,-2 0,-1 2,-2 0,-1 2,-2 0,-1 3,-3 0,-1 2,-2 0,-1 2,-2 0,-1 1,-1M641.5,185.5l1,-1 0,-1 3,-3 0,-1 2,-2 0,-1 2,-2 0,-1 3,-3 0,-1 2,-2 0,-1 2,-2 0,-1 2,-2 0,-1 3,-3 0,-1 2,-2 0,-1 2,-2 0,-1 3,-3 0,-1 2,-2 0,-1 2,-2 0,-1 2,-2 0,-1 3,-3 0,-1 2,-2 0,-1 2,-2 0,-1 3,-3 0,-1 2,-2 0,-1 2,-2M422.5,569.5l0,-1 2,-2 0,-1 2,-2 0,-1 1,-1 0,-1 2,-2M429.5,558.5l0,-1 1,-1 0,-1 2,-2 0,-1 2,-2 0,-1 1,-1 0,-1 1,-1M436.5,546.5l1,-1 0,-1 1,-1 0,-1 2,-2 0,-1 2,-2 0,-1 1,-1 0,-1 1,-1M444.5,533.5l1,-1 0,-1 1,-1 0,-1 2,-2 0,-1 2,-2 0,-1 1,-1 0,-1 1,-1M452.5,520.5l1,-1 0,-1 2,-2 0,-1 1,-1 0,-1 2,-2 0,-1 2,-2 0,-1 1,-1M461.5,506.5l0,-1 2,-2 0,-1 2,-2 0,-1 1,-1 0,-1 2,-2 0,-1 2,-2 0,-1M470.5,491.5l1,-1 0,-1 2,-2 0,-1 2,-2 0,-1 1,-1 0,-1 2,-2 0,-1 2,-2 0,-1M480.5,475.5l2,-2 0,-1 1,-1 0,-1 2,-2 0,-1 2,-2 0,-1 1,-1 0,-1 2,-2 0,-1 1,-1M491.5,458.5l1,-1 0,-1 2,-2 0,-1 1,-1 0,-1 2,-2 0,-1 2,-2 0,-1 2,-2 0,-1 1,-1 0,-1 1,-1M503.5,439.5l1,-1 0,-1 2,-2 0,-1 2,-2 0,-1 1,-1 0,-1 2,-2 0,-1 2,-2 0,-1 2,-2 0,-1 1,-1M516.5,419.5l0,-1 2,-2 0,-1 2,-2 0,-1 2,-2 0,-1 2,-2 0,-1 1,-1 0,-1 2,-2 0,-1 2,-2 0,-1 1,-1M530.5,397.5l1,-1 0,-1 2,-2 0,-1 1,-1 0,-1 2,-2 0,-1 2,-2 0,-1 2,-2 0,-1 2,-2 0,-1 2,-2 0,-1 1,-1 0,-1M545.5,373.5l2,-2 0,-1 2,-2 0,-1 2,-2 0,-1 2,-2 0,-1 2,-2 0,-1 2,-2 0,-1 1,-1 0,-1 2,-2 0,-1 2,-2 0,-1 2,-2M564.5,345.5l0,-1 2,-2 0,-1 2,-2 0,-1 2,-2 0,-1 2,-2 0,-1 2,-2 0,-1 2,-2 0,-1 1,-1 0,-1 2,-2 0,-1 2,-2 0,-1 2,-2 0,-1 1,-1M584.5,314.5l1,-1 0,-1 2,-2 0,-1 2,-2 0,-1 2,-2 0,-1 2,-2 0,-1 2,-2 0,-1 2,-2 0,-1 2,-2 0,-1 2,-2 0,-1 2,-2 0,-1 2,-2 0,-1 2,-2 0,-1M607.5,279.5l2,-2 0,-1 2,-2 0,-1 2,-2 0,-1 2,-2 0,-1 2,-2 0,-1 2,-2 0,-1 2,-2 0,-1 2,-2 0,-1 2,-2 0,-1 2,-2 0,-1 2,-2 0,-1 2,-2 0,-1 2,-2 0,-1 2,-2 0,-1 1,-1M636.5,236.5l1,-1 0,-1 2,-2 0,-1 2,-2 0,-1 2,-2 0,-1 2,-2 0,-1 2,-2 0,-1 2,-2 0,-1 2,-2 0,-1 2,-2 0,-1 2,-2 0,-1 2,-2 0,-1 2,-2 0,-1 3,-3 0,-1 2,-2 0,-1 2,-2 0,-1 2,-2 0,-1 2,-2 0,-1M670.5,185.5l2,-2 0,-1 2,-2 0,-1 2,-2 0,-1 3,-3 0,-1 2,-2 0,-1 2,-2 0,-1 2,-2 0,-1 2,-2 0,-1 2,-2 0,-1 2,-2 0,-1 3,-3 0,-1 2,-2 0,-1 2,-2 0,-1 2,-2 0,-1 2,-2 0,-1 2,-2 0,-1 3,-3 0,-1 2,-2 0,-1 2,-2 0,-1 2,-2 0,-1 2,-2 0,-1 1,-1M448.5,569.5l0,-1 2,-2 0,-1 1,-1 0,-1 2,-2 0,-1 1,-1 0,-1M454.5,558.5l2,-2 0,-1 1,-1 0,-1 2,-2 0,-1 1,-1 0,-1 2,-2M462.5,546.5l0,-1 1,-1 0,-1 2,-2 0,-1 1,-1 0,-1 2,-2 0,-1 1,-1 0,-1M469.5,533.5l2,-2 0,-1 2,-2 0,-1 1,-1 0,-1 2,-2 0,-1 1,-1 0,-1M477.5,520.5l2,-2 0,-1 1,-1 0,-1 2,-2 0,-1 1,-1 0,-1 2,-2 0,-1 1,-1M486.5,506.5l1,-1 0,-1 1,-1 0,-1 2,-2 0,-1 1,-1 0,-1 2,-2 0,-1 2,-2 0,-1M495.5,491.5l1,-1 0,-1 2,-2 0,-1 1,-1 0,-1 2,-2 0,-1 2,-2 0,-1 1,-1 0,-1 1,-1M505.5,475.5l1,-1 0,-1 1,-1 0,-1 2,-2 0,-1 2,-2 0,-1 1,-1 0,-1 2,-2 0,-1 2,-2M516.5,458.5l0,-1 1,-1 0,-1 2,-2 0,-1 1,-1 0,-1 2,-2 0,-1 2,-2 0,-1 1,-1 0,-1 2,-2 0,-1M527.5,439.5l2,-2 0,-1 1,-1 0,-1 2,-2 0,-1 2,-2 0,-1 1,-1 0,-1 2,-2 0,-1 2,-2 0,-1 1,-1M540.5,419.5l0,-1 2,-2 0,-1 2,-2 0,-1 2,-2 0,-1 1,-1 0,-1 2,-2 0,-1 2,-2 0,-1 1,-1 0,-1 2,-2M554.5,397.5l0,-1 2,-2 0,-1 2,-2 0,-1 1,-1 0,-1 2,-2 0,-1 2,-2 0,-1 2,-2 0,-1 1,-1 0,-1 2,-2 0,-1 1,-1M569.5,373.5l1,-1 0,-1 2,-2 0,-1 1,-1 0,-1 2,-2 0,-1 2,-2 0,-1 2,-2 0,-1 1,-1 0,-1 2,-2 0,-1 2,-2 0,-1 2,-2 0,-1 1,-1M587.5,345.5l1,-1 0,-1 1,-1 0,-1 2,-2 0,-1 2,-2 0,-1 2,-2 0,-1 2,-2 0,-1 1,-1 0,-1 2,-2 0,-1 2,-2 0,-1 2,-2 0,-1 2,-2 0,-1 1,-1M607.5,314.5l1,-1 0,-1 1,-1 0,-1 2,-2 0,-1 2,-2 0,-1 2,-2 0,-1 2,-2 0,-1 2,-2 0,-1 1,-1 0,-1 2,-2 0,-1 2,-2 0,-1 2,-2 0,-1 2,-2 0,-1 2,-2M630.5,279.5l0,-1 2,-2 0,-1 2,-2 0,-1 2,-2 0,-1 1,-1 0,-1 2,-2 0,-1 2,-2 0,-1 2,-2 0,-1 2,-2 0,-1 2,-2 0,-1 2,-2 0,-1 2,-2 0,-1 2,-2 0,-1 2,-2 0,-1 2,-2 0,-1 1,-1M658.5,236.5l1,-1 0,-1 2,-2 0,-1 2,-2 0,-1 1,-1 0,-1 2,-2 0,-1 2,-2 0,-1 2,-2 0,-1 2,-2 0,-1 2,-2 0,-1 2,-2 0,-1 2,-2 0,-1 2,-2 0,-1 2,-2 0,-1 2,-2 0,-1 2,-2 0,-1 2,-2 0,-1 2,-2 0,-1 2,-2M692.5,185.5l0,-1 2,-2 0,-1 2,-2 0,-1 2,-2 0,-1 2,-2 0,-1 3,-3 0,-1 2,-2 0,-1 2,-2 0,-1 2,-2 0,-1 2,-2 0,-1 2,-2 0,-1 2,-2 0,-1 2,-2 0,-1 2,-2 0,-1 2,-2 0,-1 2,-2 0,-1 2,-2 0,-1 2,-2 0,-1 2,-2 0,-1 3,-3 0,-1 2,-2 0,-1 2,-2 0,-1 1,-1M486.5,569.5l0,-1 1,-1 0,-1 2,-2 0,-1 1,-1 0,-1 2,-2 0,-1M492.5,558.5l1,-1 0,-1 1,-1 0,-1 2,-2 0,-1 1,-1 0,-1 2,-2 0,-1M499.5,546.5l1,-1 0,-1 1,-1 0,-1 2,-2 0,-1 1,-1 0,-1 2,-2 0,-1 1,-1M507.5,533.5l0,-1 1,-1 0,-1 2,-2 0,-1 1,-1 0,-1 2,-2 0,-1 1,-1 0,-1M514.5,520.5l2,-2 0,-1 1,-1 0,-1 1,-1 0,-1 2,-2 0,-1 1,-1 0,-1 2,-2M523.5,506.5l0,-1 1,-1 0,-1 2,-2 0,-1 1,-1 0,-1 2,-2 0,-1 1,-1 0,-1 2,-2M532.5,491.5l0,-1 1,-1 0,-1 1,-1 0,-1 2,-2 0,-1 1,-1 0,-1 2,-2 0,-1 1,-1 0,-1 1,-1M541.5,475.5l1,-1 0,-1 1,-1 0,-1 2,-2 0,-1 1,-1 0,-1 2,-2 0,-1 1,-1 0,-1 2,-2 0,-1M551.5,458.5l1,-1 0,-1 2,-2 0,-1 2,-2 0,-1 1,-1 0,-1 2,-2 0,-1 1,-1 0,-1 2,-2 0,-1 1,-1M563.5,439.5l0,-1 2,-2 0,-1 1,-1 0,-1 2,-2 0,-1 1,-1 0,-1 2,-2 0,-1 1,-1 0,-1 2,-2 0,-1 1,-1M575.5,419.5l1,-1 0,-1 1,-1 0,-1 2,-2 0,-1 1,-1 0,-1 2,-2 0,-1 1,-1 0,-1 2,-2 0,-1 2,-2 0,-1 1,-1 0,-1M588.5,397.5l2,-2 0,-1 1,-1 0,-1 2,-2 0,-1 2,-2 0,-1 1,-1 0,-1 2,-2 0,-1 2,-2 0,-1 1,-1 0,-1 2,-2 0,-1M603.5,373.5l1,-1 0,-1 2,-2 0,-1 2,-2 0,-1 1,-1 0,-1 2,-2 0,-1 2,-2 0,-1 1,-1 0,-1 2,-2 0,-1 2,-2 0,-1 1,-1 0,-1 2,-2M621.5,345.5l0,-1 2,-2 0,-1 1,-1 0,-1 2,-2 0,-1 2,-2 0,-1 1,-1 0,-1 2,-2 0,-1 2,-2 0,-1 1,-1 0,-1 2,-2 0,-1 2,-2 0,-1 1,-1 0,-1 1,-1M640.5,314.5l1,-1 0,-1 2,-2 0,-1 2,-2 0,-1 1,-1 0,-1 2,-2 0,-1 2,-2 0,-1 1,-1 0,-1 2,-2 0,-1 2,-2 0,-1 2,-2 0,-1 1,-1 0,-1 2,-2 0,-1 2,-2 0,-1M662.5,279.5l2,-2 0,-1 1,-1 0,-1 2,-2 0,-1 2,-2 0,-1 2,-2 0,-1 2,-2 0,-1 1,-1 0,-1 2,-2 0,-1 2,-2 0,-1 2,-2 0,-1 2,-2 0,-1 1,-1 0,-1 2,-2 0,-1 2,-2 0,-1 2,-2 0,-1 1,-1M690.5,236.5l1,-1 0,-1 1,-1 0,-1 2,-2 0,-1 2,-2 0,-1 2,-2 0,-1 2,-2 0,-1 2,-2 0,-1 1,-1 0,-1 2,-2 0,-1 2,-2 0,-1 2,-2 0,-1 2,-2 0,-1 2,-2 0,-1 2,-2 0,-1 1,-1 0,-1 2,-2 0,-1 2,-2 0,-1 2,-2 0,-1 1,-1M723.5,185.5l1,-1 0,-1 2,-2 0,-1 2,-2 0,-1 2,-2 0,-1 2,-2 0,-1 1,-1 0,-1 2,-2 0,-1 2,-2 0,-1 2,-2 0,-1 2,-2 0,-1 2,-2 0,-1 2,-2 0,-1 2,-2 0,-1 2,-2 0,-1 2,-2 0,-1 2,-2 0,-1 2,-2 0,-1 2,-2 0,-1 2,-2 0,-1 2,-2 0,-1 2,-2 0,-1 2,-2 0,-1 2,-2 0,-1M514.5,569.5l0,-1 1,-1 0,-1 1,-1 0,-1 2,-2 0,-1 1,-1 0,-1 1,-1M520.5,558.5l0,-1 2,-2 0,-1 1,-1 0,-1 1,-1 0,-1 1,-1 0,-1 2,-2M527.5,546.5l0,-1 1,-1 0,-1 1,-1 0,-1 2,-2 0,-1 1,-1 0,-1 1,-1 0,-1 1,-1M534.5,533.5l1,-1 0,-1 1,-1 0,-1 1,-1 0,-1 2,-2 0,-1 1,-1 0,-1 1,-1 0,-1M541.5,520.5l2,-2 0,-1 1,-1 0,-1 1,-1 0,-1 2,-2 0,-1 1,-1 0,-1 2,-2M550.5,506.5l0,-1 1,-1 0,-1 1,-1 0,-1 2,-2 0,-1 1,-1 0,-1 1,-1 0,-1 2,-2 0,-1M558.5,491.5l1,-1 0,-1 2,-2 0,-1 1,-1 0,-1 1,-1 0,-1 2,-2 0,-1 1,-1 0,-1 2,-2M568.5,475.5l0,-1 1,-1 0,-1 1,-1 0,-1 2,-2 0,-1 1,-1 0,-1 2,-2 0,-1 1,-1 0,-1 2,-2M578.5,458.5l0,-1 1,-1 0,-1 1,-1 0,-1 2,-2 0,-1 1,-1 0,-1 2,-2 0,-1 1,-1 0,-1 2,-2 0,-1 1,-1M589.5,439.5l0,-1 2,-2 0,-1 1,-1 0,-1 1,-1 0,-1 2,-2 0,-1 1,-1 0,-1 2,-2 0,-1 1,-1 0,-1 2,-2M601.5,419.5l0,-1 1,-1 0,-1 2,-2 0,-1 1,-1 0,-1 2,-2 0,-1 1,-1 0,-1 2,-2 0,-1 1,-1 0,-1 2,-2 0,-1 1,-1M614.5,397.5l0,-1 2,-2 0,-1 1,-1 0,-1 2,-2 0,-1 1,-1 0,-1 2,-2 0,-1 1,-1 0,-1 2,-2 0,-1 1,-1 0,-1 2,-2 0,-1M628.5,373.5l2,-2 0,-1 1,-1 0,-1 2,-2 0,-1 1,-1 0,-1 2,-2 0,-1 1,-1 0,-1 2,-2 0,-1 1,-1 0,-1 2,-2 0,-1 2,-2 0,-1 1,-1 0,-1M645.5,345.5l2,-2 0,-1 1,-1 0,-1 2,-2 0,-1 2,-2 0,-1 1,-1 0,-1 2,-2 0,-1 1,-1 0,-1 2,-2 0,-1 2,-2 0,-1 1,-1 0,-1 2,-2 0,-1 1,-1 0,-1M664.5,314.5l2,-2 0,-1 2,-2 0,-1 1,-1 0,-1 2,-2 0,-1 2,-2 0,-1 1,-1 0,-1 2,-2 0,-1 1,-1 0,-1 2,-2 0,-1 2,-2 0,-1 1,-1 0,-1 2,-2 0,-1 2,-2 0,-1M686.5,279.5l1,-1 0,-1 2,-2 0,-1 2,-2 0,-1 1,-1 0,-1 2,-2 0,-1 2,-2 0,-1 2,-2 0,-1 1,-1 0,-1 2,-2 0,-1 2,-2 0,-1 1,-1 0,-1 2,-2 0,-1 2,-2 0,-1 1,-1 0,-1 2,-2 0,-1 2,-2 0,-1M713.5,236.5l2,-2 0,-1 1,-1 0,-1 2,-2 0,-1 2,-2 0,-1 2,-2 0,-1 1,-1 0,-1 2,-2 0,-1 2,-2 0,-1 2,-2 0,-1 1,-1 0,-1 2,-2 0,-1 2,-2 0,-1 2,-2 0,-1 1,-1 0,-1 2,-2 0,-1 2,-2 0,-1 2,-2 0,-1 2,-2 0,-1 1,-1M746.5,185.5l0,-1 2,-2 0,-1 2,-2 0,-1 2,-2 0,-1 2,-2 0,-1 1,-1 0,-1 2,-2 0,-1 2,-2 0,-1 2,-2 0,-1 2,-2 0,-1 2,-2 0,-1 1,-1 0,-1 2,-2 0,-1 2,-2 0,-1 2,-2 0,-1 2,-2 0,-1 2,-2 0,-1 2,-2 0,-1 1,-1 0,-1 2,-2 0,-1 2,-2 0,-1 2,-2 0,-1 2,-2 0,-1 2,-2 0,-1M536.5,569.5l0,-1 1,-1 0,-1 1,-1 0,-1 2,-2 0,-1 1,-1 0,-1 1,-1M542.5,558.5l0,-1 1,-1 0,-1 2,-2 0,-1 1,-1 0,-1 1,-1 0,-1 1,-1 0,-1M548.5,546.5l2,-2 0,-1 1,-1 0,-1 1,-1 0,-1 1,-1 0,-1 2,-2 0,-1 1,-1M556.5,533.5l0,-1 1,-1 0,-1 2,-2 0,-1 1,-1 0,-1 1,-1 0,-1 1,-1 0,-1 1,-1M563.5,520.5l1,-1 0,-1 1,-1 0,-1 1,-1 0,-1 2,-2 0,-1 1,-1 0,-1 1,-1 0,-1 1,-1M571.5,506.5l0,-1 2,-2 0,-1 1,-1 0,-1 1,-1 0,-1 2,-2 0,-1 1,-1 0,-1 1,-1 0,-1M579.5,491.5l2,-2 0,-1 1,-1 0,-1 1,-1 0,-1 2,-2 0,-1 1,-1 0,-1 1,-1 0,-1 2,-2M589.5,475.5l0,-1 1,-1 0,-1 1,-1 0,-1 2,-2 0,-1 1,-1 0,-1 1,-1 0,-1 2,-2 0,-1 1,-1 0,-1M598.5,458.5l1,-1 0,-1 2,-2 0,-1 1,-1 0,-1 2,-2 0,-1 1,-1 0,-1 1,-1 0,-1 2,-2 0,-1 1,-1 0,-1M609.5,439.5l2,-2 0,-1 1,-1 0,-1 1,-1 0,-1 2,-2 0,-1 1,-1 0,-1 2,-2 0,-1 1,-1 0,-1 1,-1 0,-1 1,-1M621.5,419.5l1,-1 0,-1 1,-1 0,-1 2,-2 0,-1 1,-1 0,-1 1,-1 0,-1 2,-2 0,-1 1,-1 0,-1 2,-2 0,-1 1,-1 0,-1 1,-1M634.5,397.5l1,-1 0,-1 1,-1 0,-1 2,-2 0,-1 1,-1 0,-1 1,-1 0,-1 2,-2 0,-1 1,-1 0,-1 2,-2 0,-1 1,-1 0,-1 2,-2 0,-1M648.5,373.5l1,-1 0,-1 2,-2 0,-1 1,-1 0,-1 2,-2 0,-1 1,-1 0,-1 2,-2 0,-1 1,-1 0,-1 2,-2 0,-1 1,-1 0,-1 2,-2 0,-1 1,-1 0,-1 1,-1M665.5,345.5l1,-1 0,-1 1,-1 0,-1 2,-2 0,-1 1,-1 0,-1 2,-2 0,-1 1,-1 0,-1 2,-2 0,-1 1,-1 0,-1 2,-2 0,-1 2,-2 0,-1 1,-1 0,-1 2,-2 0,-1 1,-1M684.5,314.5l0,-1 2,-2 0,-1 1,-1 0,-1 2,-2 0,-1 1,-1 0,-1 2,-2 0,-1 2,-2 0,-1 1,-1 0,-1 2,-2 0,-1 1,-1 0,-1 2,-2 0,-1 1,-1 0,-1 2,-2 0,-1 2,-2 0,-1M705.5,279.5l1,-1 0,-1 2,-2 0,-1 1,-1 0,-1 2,-2 0,-1 2,-2 0,-1 1,-1 0,-1 2,-2 0,-1 2,-2 0,-1 1,-1 0,-1 2,-2 0,-1 1,-1 0,-1 2,-2 0,-1 2,-2 0,-1 1,-1 0,-1 2,-2 0,-1 2,-2 0,-1 1,-1M732.5,236.5l0,-1 2,-2 0,-1 2,-2 0,-1 1,-1 0,-1 2,-2 0,-1 2,-2 0,-1 1,-1 0,-1 2,-2 0,-1 2,-2 0,-1 1,-1 0,-1 2,-2 0,-1 2,-2 0,-1 2,-2 0,-1 1,-1 0,-1 2,-2 0,-1 2,-2 0,-1 1,-1 0,-1 2,-2 0,-1 2,-2 0,-1 1,-1M764.5,185.5l1,-1 0,-1 1,-1 0,-1 2,-2 0,-1 2,-2 0,-1 1,-1 0,-1 2,-2 0,-1 2,-2 0,-1 2,-2 0,-1 2,-2 0,-1 1,-1 0,-1 2,-2 0,-1 2,-2 0,-1 2,-2 0,-1 1,-1 0,-1 2,-2 0,-1 2,-2 0,-1 2,-2 0,-1 1,-1 0,-1 2,-2 0,-1 2,-2 0,-1 2,-2 0,-1 2,-2 0,-1 2,-2 0,-1 1,-1 0,-1 2,-2M554.5,569.5l1,-1 0,-1 1,-1 0,-1 1,-1 0,-1 1,-1 0,-1 2,-2 0,-1M560.5,558.5l1,-1 0,-1 1,-1 0,-1 1,-1 0,-1 1,-1 0,-1 2,-2 0,-1 1,-1M567.5,546.5l0,-1 1,-1 0,-1 1,-1 0,-1 1,-1 0,-1 2,-2 0,-1 1,-1 0,-1 1,-1M574.5,533.5l0,-1 1,-1 0,-1 1,-1 0,-1 2,-2 0,-1 1,-1 0,-1 1,-1 0,-1 1,-1M581.5,520.5l0,-1 2,-2 0,-1 1,-1 0,-1 1,-1 0,-1 1,-1 0,-1 2,-2 0,-1 1,-1M589.5,506.5l0,-1 1,-1 0,-1 1,-1 0,-1 2,-2 0,-1 1,-1 0,-1 1,-1 0,-1 1,-1 0,-1 1,-1M597.5,491.5l1,-1 0,-1 1,-1 0,-1 1,-1 0,-1 2,-2 0,-1 1,-1 0,-1 1,-1 0,-1 1,-1 0,-1 1,-1M606.5,475.5l1,-1 0,-1 1,-1 0,-1 1,-1 0,-1 2,-2 0,-1 1,-1 0,-1 1,-1 0,-1 2,-2 0,-1 1,-1M616.5,458.5l0,-1 1,-1 0,-1 1,-1 0,-1 2,-2 0,-1 1,-1 0,-1 1,-1 0,-1 2,-2 0,-1 1,-1 0,-1 1,-1 0,-1M626.5,439.5l2,-2 0,-1 1,-1 0,-1 1,-1 0,-1 2,-2 0,-1 1,-1 0,-1 2,-2 0,-1 1,-1 0,-1 1,-1 0,-1 1,-1M638.5,419.5l1,-1 0,-1 1,-1 0,-1 1,-1 0,-1 2,-2 0,-1 1,-1 0,-1 1,-1 0,-1 2,-2 0,-1 1,-1 0,-1 2,-2 0,-1 1,-1M651.5,397.5l0,-1 1,-1 0,-1 2,-2 0,-1 1,-1 0,-1 2,-2 0,-1 1,-1 0,-1 1,-1 0,-1 2,-2 0,-1 1,-1 0,-1 2,-2 0,-1 1,-1M665.5,373.5l0,-1 2,-2 0,-1 1,-1 0,-1 1,-1 0,-1 2,-2 0,-1 1,-1 0,-1 2,-2 0,-1 1,-1 0,-1 2,-2 0,-1 1,-1 0,-1 1,-1 0,-1 2,-2 0,-1M681.5,345.5l1,-1 0,-1 2,-2 0,-1 1,-1 0,-1 2,-2 0,-1 1,-1 0,-1 2,-2 0,-1 1,-1 0,-1 2,-2 0,-1 1,-1 0,-1 2,-2 0,-1 1,-1 0,-1 2,-2 0,-1 1,-1M700.5,314.5l0,-1 2,-2 0,-1 1,-1 0,-1 2,-2 0,-1 1,-1 0,-1 2,-2 0,-1 1,-1 0,-1 2,-2 0,-1 1,-1 0,-1 2,-2 0,-1 1,-1 0,-1 2,-2 0,-1 1,-1 0,-1 2,-2 0,-1 1,-1M721.5,279.5l1,-1 0,-1 1,-1 0,-1 2,-2 0,-1 1,-1 0,-1 2,-2 0,-1 1,-1 0,-1 2,-2 0,-1 1,-1 0,-1 2,-2 0,-1 2,-2 0,-1 1,-1 0,-1 2,-2 0,-1 1,-1 0,-1 2,-2 0,-1 2,-2 0,-1 1,-1 0,-1 2,-2 0,-1M747.5,236.5l1,-1 0,-1 2,-2 0,-1 2,-2 0,-1 1,-1 0,-1 2,-2 0,-1 1,-1 0,-1 2,-2 0,-1 2,-2 0,-1 1,-1 0,-1 2,-2 0,-1 2,-2 0,-1 1,-1 0,-1 2,-2 0,-1 2,-2 0,-1 1,-1 0,-1 2,-2 0,-1 1,-1 0,-1 2,-2 0,-1 2,-2 0,-1 1,-1M779.5,185.5l0,-1 2,-2 0,-1 2,-2 0,-1 2,-2 0,-1 1,-1 0,-1 2,-2 0,-1 2,-2 0,-1 1,-1 0,-1 2,-2 0,-1 2,-2 0,-1 1,-1 0,-1 2,-2 0,-1 2,-2 0,-1 2,-2 0,-1 1,-1 0,-1 2,-2 0,-1 2,-2 0,-1 1,-1 0,-1 2,-2 0,-1 2,-2 0,-1 2,-2 0,-1 1,-1 0,-1 2,-2 0,-1 2,-2 0,-1 2,-2 0,-1M584.5,569.5l0,-1 1,-1 0,-1 1,-1 0,-1 1,-1 0,-1 1,-1 0,-1 1,-1 0,-1M589.5,558.5l1,-1 0,-1 2,-2 0,-1 1,-1 0,-1 1,-1 0,-1 1,-1 0,-1 1,-1M596.5,546.5l0,-1 1,-1 0,-1 1,-1 0,-1 1,-1 0,-1 2,-2 0,-1 1,-1 0,-1 1,-1M603.5,533.5l0,-1 1,-1 0,-1 1,-1 0,-1 1,-1 0,-1 1,-1 0,-1 2,-2 0,-1 1,-1M610.5,520.5l0,-1 1,-1 0,-1 1,-1 0,-1 1,-1 0,-1 1,-1 0,-1 2,-2 0,-1 1,-1 0,-1M617.5,506.5l1,-1 0,-1 1,-1 0,-1 1,-1 0,-1 2,-2 0,-1 1,-1 0,-1 1,-1 0,-1 1,-1 0,-1M625.5,491.5l1,-1 0,-1 1,-1 0,-1 2,-2 0,-1 1,-1 0,-1 1,-1 0,-1 1,-1 0,-1 2,-2 0,-1M634.5,475.5l1,-1 0,-1 1,-1 0,-1 1,-1 0,-1 1,-1 0,-1 2,-2 0,-1 1,-1 0,-1 1,-1 0,-1 1,-1 0,-1M643.5,458.5l2,-2 0,-1 1,-1 0,-1 1,-1 0,-1 1,-1 0,-1 2,-2 0,-1 1,-1 0,-1 1,-1 0,-1 1,-1 0,-1 1,-1M654.5,439.5l1,-1 0,-1 1,-1 0,-1 1,-1 0,-1 1,-1 0,-1 2,-2 0,-1 1,-1 0,-1 1,-1 0,-1 1,-1 0,-1 2,-2 0,-1M665.5,419.5l1,-1 0,-1 1,-1 0,-1 2,-2 0,-1 1,-1 0,-1 1,-1 0,-1 1,-1 0,-1 2,-2 0,-1 1,-1 0,-1 1,-1 0,-1 2,-2M678.5,397.5l0,-1 1,-1 0,-1 1,-1 0,-1 2,-2 0,-1 1,-1 0,-1 1,-1 0,-1 2,-2 0,-1 1,-1 0,-1 1,-1 0,-1 2,-2 0,-1 1,-1 0,-1M691.5,373.5l1,-1 0,-1 2,-2 0,-1 1,-1 0,-1 1,-1 0,-1 2,-2 0,-1 1,-1 0,-1 1,-1 0,-1 2,-2 0,-1 1,-1 0,-1 1,-1 0,-1 2,-2 0,-1 1,-1 0,-1M707.5,345.5l2,-2 0,-1 1,-1 0,-1 1,-1 0,-1 2,-2 0,-1 1,-1 0,-1 2,-2 0,-1 1,-1 0,-1 1,-1 0,-1 2,-2 0,-1 1,-1 0,-1 2,-2 0,-1 1,-1 0,-1 1,-1 0,-1M725.5,314.5l2,-2 0,-1 1,-1 0,-1 2,-2 0,-1 1,-1 0,-1 2,-2 0,-1 1,-1 0,-1 1,-1 0,-1 2,-2 0,-1 1,-1 0,-1 2,-2 0,-1 1,-1 0,-1 2,-2 0,-1 1,-1 0,-1 2,-2 0,-1M746.5,279.5l1,-1 0,-1 1,-1 0,-1 2,-2 0,-1 1,-1 0,-1 2,-2 0,-1 1,-1 0,-1 2,-2 0,-1 1,-1 0,-1 2,-2 0,-1 1,-1 0,-1 2,-2 0,-1 1,-1 0,-1 2,-2 0,-1 1,-1 0,-1 2,-2 0,-1 1,-1 0,-1 2,-2 0,-1 1,-1M772.5,236.5l0,-1 2,-2 0,-1 1,-1 0,-1 2,-2 0,-1 2,-2 0,-1 1,-1 0,-1 2,-2 0,-1 1,-1 0,-1 2,-2 0,-1 1,-1 0,-1 2,-2 0,-1 1,-1 0,-1 2,-2 0,-1 1,-1 0,-1 2,-2 0,-1 2,-2 0,-1 1,-1 0,-1 2,-2 0,-1 1,-1 0,-1 2,-2 0,-1 1,-1M803.5,185.5l0,-1 2,-2 0,-1 2,-2 0,-1 1,-1 0,-1 2,-2 0,-1 1,-1 0,-1 2,-2 0,-1 2,-2 0,-1 1,-1 0,-1 2,-2 0,-1 2,-2 0,-1 1,-1 0,-1 2,-2 0,-1 1,-1 0,-1 2,-2 0,-1 2,-2 0,-1 1,-1 0,-1 2,-2 0,-1 2,-2 0,-1 1,-1 0,-1 2,-2 0,-1 2,-2 0,-1 1,-1 0,-1 2,-2 0,-1 2,-2 0,-1 1,-1 0,-1M607.5,569.5l0,-1 1,-1 0,-1 1,-1 0,-1 2,-2 0,-1 1,-1 0,-1 1,-1M613.5,558.5l0,-1 1,-1 0,-1 1,-1 0,-1 1,-1 0,-1 1,-1 0,-1 1,-1 0,-1 1,-1M619.5,546.5l0,-1 1,-1 0,-1 1,-1 0,-1 1,-1 0,-1 1,-1 0,-1 1,-1 0,-1 1,-1 0,-1M625.5,533.5l2,-2 0,-1 1,-1 0,-1 1,-1 0,-1 1,-1 0,-1 1,-1 0,-1 1,-1 0,-1M632.5,520.5l1,-1 0,-1 1,-1 0,-1 1,-1 0,-1 1,-1 0,-1 2,-2 0,-1 1,-1 0,-1 1,-1M640.5,506.5l0,-1 1,-1 0,-1 1,-1 0,-1 1,-1 0,-1 1,-1 0,-1 1,-1 0,-1 2,-2 0,-1 1,-1M648.5,491.5l0,-1 1,-1 0,-1 1,-1 0,-1 1,-1 0,-1 1,-1 0,-1 1,-1 0,-1 2,-2 0,-1 1,-1 0,-1M656.5,475.5l1,-1 0,-1 1,-1 0,-1 1,-1 0,-1 1,-1 0,-1 2,-2 0,-1 1,-1 0,-1 1,-1 0,-1 1,-1 0,-1M665.5,458.5l1,-1 0,-1 1,-1 0,-1 2,-2 0,-1 1,-1 0,-1 1,-1 0,-1 1,-1 0,-1 1,-1 0,-1 2,-2 0,-1 1,-1M676.5,439.5l0,-1 1,-1 0,-1 1,-1 0,-1 1,-1 0,-1 2,-2 0,-1 1,-1 0,-1 1,-1 0,-1 1,-1 0,-1 1,-1 0,-1 2,-2M687.5,419.5l0,-1 1,-1 0,-1 1,-1 0,-1 1,-1 0,-1 2,-2 0,-1 1,-1 0,-1 1,-1 0,-1 1,-1 0,-1 2,-2 0,-1 1,-1 0,-1 1,-1M699.5,397.5l0,-1 1,-1 0,-1 2,-2 0,-1 1,-1 0,-1 1,-1 0,-1 1,-1 0,-1 2,-2 0,-1 1,-1 0,-1 1,-1 0,-1 1,-1 0,-1 2,-2 0,-1M712.5,373.5l1,-1 0,-1 1,-1 0,-1 2,-2 0,-1 1,-1 0,-1 1,-1 0,-1 1,-1 0,-1 2,-2 0,-1 1,-1 0,-1 1,-1 0,-1 2,-2 0,-1 1,-1 0,-1 1,-1 0,-1 1,-1M728.5,345.5l1,-1 0,-1 1,-1 0,-1 1,-1 0,-1 2,-2 0,-1 1,-1 0,-1 1,-1 0,-1 1,-1 0,-1 2,-2 0,-1 1,-1 0,-1 2,-2 0,-1 1,-1 0,-1 1,-1 0,-1 2,-2 0,-1 1,-1M746.5,314.5l0,-1 1,-1 0,-1 2,-2 0,-1 1,-1 0,-1 1,-1 0,-1 2,-2 0,-1 1,-1 0,-1 1,-1 0,-1 2,-2 0,-1 1,-1 0,-1 2,-2 0,-1 1,-1 0,-1 1,-1 0,-1 2,-2 0,-1 1,-1 0,-1 1,-1M766.5,279.5l1,-1 0,-1 1,-1 0,-1 1,-1 0,-1 2,-2 0,-1 1,-1 0,-1 2,-2 0,-1 1,-1 0,-1 1,-1 0,-1 2,-2 0,-1 1,-1 0,-1 2,-2 0,-1 1,-1 0,-1 2,-2 0,-1 1,-1 0,-1 2,-2 0,-1 1,-1 0,-1 1,-1 0,-1 2,-2 0,-1M791.5,236.5l1,-1 0,-1 2,-2 0,-1 1,-1 0,-1 2,-2 0,-1 1,-1 0,-1 2,-2 0,-1 1,-1 0,-1 2,-2 0,-1 1,-1 0,-1 2,-2 0,-1 1,-1 0,-1 2,-2 0,-1 1,-1 0,-1 2,-2 0,-1 1,-1 0,-1 2,-2 0,-1 1,-1 0,-1 2,-2 0,-1 1,-1 0,-1 2,-2 0,-1 1,-1M822.5,185.5l0,-1 2,-2 0,-1 1,-1 0,-1 2,-2 0,-1 1,-1 0,-1 2,-2 0,-1 1,-1 0,-1 2,-2 0,-1 1,-1 0,-1 2,-2 0,-1 2,-2 0,-1 1,-1 0,-1 2,-2 0,-1 1,-1 0,-1 2,-2 0,-1 1,-1 0,-1 2,-2 0,-1 2,-2 0,-1 1,-1 0,-1 2,-2 0,-1 1,-1 0,-1 2,-2 0,-1 2,-2 0,-1 1,-1 0,-1 2,-2 0,-1 1,-1 0,-1 2,-2" stroke="#554408" stroke-width="1" stroke-dasharray="7.7 8.3 3.3 8.1"/>
<path d="M-479.5,569.5L65.5,24.5M-419.5,569.5L125.5,24.5M-359.5,569.5L185.5,24.5M-299.5,569.5L245.5,24.5M-239.5,569.5L305.5,24.5M-179.5,569.5L365.5,24.5M-119.5,569.5L425.5,24.5M-59.5,569.5L485.5,24.5M0.5,569.5L545.5,24.5M60.5,569.5L605.5,24.5M120.5,569.5L665.5,24.5M180.5,569.5L725.5,24.5M240.5,569.5L785.5,24.5M300.5,569.5L845.5,24.5M360.5,569.5L905.5,24.5M420.5,569.5L965.5,24.5M480.5,569.5L1025.5,24.5M540.5,569.5L1085.5,24.5M600.5,569.5L1145.5,24.5M660.5,569.5L1205.5,24.5" stroke="#0000cd" stroke-width="1"/>
<path d="M60,24.5H660M60,118.5H660M60,185.5H660M60,236.5H660M60,279.5H660M60,314.5H660M60,345.5H660M60,373.5H660M60,397.5H660M60,419.5H660M60,439.5H660M60,458.5H660M60,475.5H660M60,491.5H660M60,506.5H660M60,520.5H660M60,533.5H660M60,546.5H660M60,558.5H660" stroke="#0000cd" stroke-width="1"/>
</g>
<rect x="60.5" y="24.5" width="599" height="545" fill="none" stroke="#0000cd" stroke-width="1" shape-rendering="crispEdges"/>
<g clip-path="url(#cf)">
<path d="M376.25,24.5L320,93.75L316.75,107L303.75,117.5L282,146.25L280.75,185L279.5,212.5L280,236.25L294,262.5L284.5,279.5L248,295.75L286.25,322L297.5,345L244.25,363.25L346.75,417.5L270,444.5L375,446.5L433.75,455L442,457.75L437.5,476.25L412.5,481L410,483.75L395,518.75L386.9,528.75L387.5,530L396.9,532.5L376.9,553.75" fill="none" stroke="#004b00" stroke-width="2.0" stroke-linejoin="round" stroke-linecap="butt" shape-rendering="crispEdges"/>
<path d="M508.65,24.6L481.9,94.6L453.9,106.9L453.5,118.5L450.5,146.25L418.2,185.5L414.2,202.5L409.7,223.5L406,237.7L403.5,254L403,262L403.3,270.5L407.8,294.5L407,309.5L407,323L419.5,350L429.7,363.2L430.8,383.5L450,418L455.2,430L461.25,443.75L453.75,447L451.25,455L452,458.75L470,478.5L502.2,519.5L506,529.2L494,531.5L497,537.5L506,544.2L521,552.5" fill="none" stroke="#b40000" stroke-width="2.0" stroke-linejoin="round" stroke-linecap="butt" shape-rendering="crispEdges"/>
<path d="M519.5,552.5L516.66,550.12L513.8,547.71L510.93,545.28L508.04,542.82L505.14,540.33L502.23,537.82L499.3,535.28L496.36,532.72L493.4,530.12L490.42,527.5L487.43,524.84L484.42,522.15L481.4,519.44L478.36,516.69L475.31,513.9L472.23,511.09L469.14,508.23L466.04,505.35L462.91,502.42L459.77,499.46L456.61,496.46L453.43,493.43L450.24,490.35L447.02,487.23L443.79,484.06L440.53,480.86L437.26,477.61L433.97,474.31L431.37,473.03L430.45,469.66L429.47,466.25L428.45,462.78L427.38,459.27L426.26,455.7L425.08,452.07L423.85,448.38L422.56,444.64L421.2,440.83L419.78,436.96L418.28,433.03L416.72,429.02L415.08,424.95L413.36,420.8L411.55,416.58L409.66,412.28L407.68,407.9L405.61,403.43L403.44,398.88L401.17,394.24L398.8,389.5L396.32,384.66L393.73,379.71L391.03,374.67L388.21,369.5L385.27,364.22L382.21,358.82L379.03,353.29L375.73,347.62L372.31,341.81L368.76,335.85L365.09,329.74L361.29,323.46L357.37,317.0L353.34,310.36L349.19,303.52L344.92,296.47L340.54,289.21L336.06,281.71L331.48,273.95L326.79,265.93L322.02,257.62L317.15,249.01L312.21,240.06L307.18,230.75L302.08,221.05L296.92,210.92L291.7,200.34L286.42,189.25L281.1,177.6L275.73,165.33L270.34,152.38L264.94,138.66L259.53,124.08L254.14,108.52L248.79,91.83L243.51,73.86L238.35,54.37L232.45,34.0" fill="none" stroke="#0000cd" stroke-width="2.0" stroke-linejoin="round" stroke-linecap="butt" shape-rendering="crispEdges"/>
</g>
<g shape-rendering="crispEdges" stroke="#000" stroke-width="1"><path d="M654,24.5h11M659.5,19v11M654,36.5h11M659.5,31v11M654,47.5h11M659.5,42v11M654,70.5h11M659.5,65v11M654,81.5h11M659.5,76v11M654,104.5h11M659.5,99v11M654,118.5h11M659.5,113v11M654,138.5h11M659.5,133v11M654,149.5h11M659.5,144v11M654,171.5h11M659.5,166v11M654,185.5h11M659.5,180v11M654,204.5h11M659.5,199v11M654,214.5h11M659.5,209v11M654,236.5h11M659.5,231v11M654,279.5h11M659.5,274v11M654,309.5h11M659.5,304v11M654,319.5h11M659.5,314v11M654,330.5h11M659.5,325v11M654,340.5h11M659.5,335v11M654,350.5h11M659.5,345v11M654,359.5h11M659.5,354v11M654,388.5h11M659.5,383v11M654,398.5h11M659.5,393v11M654,434.5h11M659.5,429v11M654,443.5h11M659.5,438v11M654,452.5h11M659.5,447v11M654,461.5h11M659.5,456v11M654,470.5h11M659.5,465v11M654,479.5h11M659.5,474v11M654,496.5h11M659.5,491v11M654,504.5h11M659.5,499v11M654,521.5h11M659.5,516v11M654,530.5h11M659.5,525v11M654,540.5h11M659.5,535v11M654,546.5h11M659.5,541v11M654,553.5h11M659.5,548v11" fill="none"/><path d="M659.5,24.5l-1,0-1,1-2,0-1,1-2,0-1,1-1,0-1,1-2,0-1,1-2,0-1,1-2,0-1,1-2,0-1,1-2,0-1,1-1,0-1,1-2,0-1,1-2,0-1,1-1,0M625.5,36.5l-1,-1 0,-1-2,-2 0,-1-2,-2 0,-1-3,-3 0,-1-2,-2 0,-1-1,-1M629.5,34.5l-1,-1 0,-1-1,-1 0,-1-2,-2 0,-1-1,-1M659.5,36.5l-1,-1-1,0-1,-1-1,0-1,-1-1,0-1,-1-1,0-1,-1-1,0-2,-2-1,0-1,-1-1,0-1,-1-1,0-1,-1-1,0-2,-2-1,0-1,-1-1,0-1,-1-1,0-1,-1-1,0-1,-1-1,0-1,-1M628.5,19.5l0,-1 1,-1 0,-3 1,-1 0,-3 1,-1 0,-3 1,-1 0,-3 1,-1 0,-1M632.5,21.5l0,-2 1,-1 0,-4 1,-1 0,-3 1,-1 0,-4 1,-1 0,-2M659.5,47.5l-2,0-1,-1-3,0-1,-1-3,0-1,-1-4,0-1,-1-3,0-1,-1-4,0-1,-1-3,0-1,-1-3,0-1,-1-2,0M624.5,39.5l0,-20M629.5,40.5l0,-10-1,-1 0,-9M633.5,41.5l0,-10-1,-1 0,-9M637.5,42.5l0,-20M641.5,43.5l0,-10M659.5,70.5l-36,0M623.5,70.5l0,-1-1,-1 0,-3-1,-1 0,-3-1,-1 0,-3-1,-1 0,-3-1,-1 0,-1M628.5,70.5l0,-1-1,-1 0,-2-1,-1 0,-2-1,-1 0,-3-1,-1 0,-2-1,-1 0,-2-1,-1 0,-1M632.5,70.5l0,-1-1,-1 0,-3-1,-1 0,-3-1,-1 0,-3-1,-1 0,-3-1,-1 0,-1M659.5,81.5l-3,0-1,-1-6,0-1,-1-6,0-1,-1-6,0-1,-1-6,0-1,-1-3,0M624.5,76.5l0,-5-1,-1 0,-9-1,-1 0,-4M628.5,76.5l0,-4-1,-1 0,-9-1,-1 0,-4M632.5,77.5l0,-5-1,-1 0,-9-1,-1 0,-4M637.5,78.5l0,-5-1,-1 0,-4M659.5,104.5l-12,-12-1,0-12,-12M634.5,80.5l1,-1 0,-1 1,-1 0,-1 2,-2 0,-1 1,-1 0,-1 1,-1 0,-1 2,-2 0,-1 1,-1 0,-1 1,-1M637.5,83.5l1,-1 0,-1 1,-1 0,-1 2,-2 0,-1 1,-1 0,-1 1,-1 0,-1 2,-2 0,-1 1,-1 0,-1 1,-1M640.5,86.5l1,-1 0,-1 1,-1 0,-1 2,-2 0,-1 1,-1 0,-1 1,-1 0,-1 2,-2 0,-1 1,-1 0,-1 1,-1M643.5,89.5l1,-1 0,-1 1,-1 0,-1 1,-1 0,-1 1,-1 0,-1 1,-1M659.5,119.5l-3,-3-1,0-6,-6-1,0-5,-5-1,0-6,-6-1,0-3,-3M632.5,96.5l0,-1 1,-1 0,-1 1,-1 0,-1 1,-1 0,-1 1,-1 0,-2 1,-1 0,-1 1,-1 0,-1 1,-1 0,-1 1,-1 0,-1M635.5,99.5l1,-1 0,-1 1,-1 0,-1 1,-1 0,-1 1,-1 0,-1 1,-1 0,-1 1,-1 0,-1 1,-1 0,-1 1,-1 0,-1 1,-1 0,-1M638.5,102.5l1,-1 0,-1 1,-1 0,-1 1,-1 0,-1 1,-1 0,-1 1,-1 0,-1 1,-1 0,-1 1,-1 0,-1 1,-1 0,-1 1,-1 0,-1M642.5,104.5l0,-1 1,-1 0,-1 1,-1 0,-1 1,-1 0,-1 1,-1 0,-2 1,-1 0,-1 1,-1 0,-1 1,-1 0,-1 1,-1 0,-1M645.5,107.5l0,-1 1,-1 0,-1 1,-1 0,-1 1,-1 0,-1 1,-1 0,-1M659.5,139.5l-3,-3 0,-1-6,-6 0,-1-5,-5 0,-1-6,-6 0,-1-3,-3M659.5,150.5l-1,-1-1,0-3,-3-1,0-3,-3-1,0-2,-2-1,0-3,-3-1,0-2,-2-1,0-3,-3-1,0-3,-3-1,0-1,-1M637.5,134.5l0,-1 1,-1 0,-1 1,-1 0,-2 1,-1 0,-1 1,-1 0,-2 1,-1 0,-2 1,-1 0,-1 1,-1 0,-1M641.5,137.5l0,-1 1,-1 0,-2 1,-1 0,-3 1,-1 0,-1M659.5,171.5l-1,-1-1,0-2,-2-1,0-3,-3-1,0-2,-2-1,0-2,-2-1,0-2,-2-1,0-2,-2-1,0-3,-3-1,0-2,-2-1,0-1,-1M637.5,156.5l0,-1 1,-1 0,-1 1,-1 0,-1 1,-1 0,-1 1,-1 0,-1M659.5,186.5l-1,-1 0,-1-2,-2 0,-1-3,-3 0,-1-2,-2 0,-1-2,-2 0,-1-2,-2 0,-1-2,-2 0,-1-3,-3 0,-1-2,-2 0,-1-1,-1M659.5,204.5l-1,-1 0,-1-1,-1 0,-1-2,-2 0,-1-1,-1 0,-1-2,-2 0,-1-1,-1 0,-1-2,-2 0,-1-1,-1 0,-1-2,-2 0,-1-1,-1 0,-1-2,-2 0,-1-1,-1 0,-1-1,-1M645.5,182.5l7,-7 1,0 7,-7M648.5,185.5l14,-14M650.5,189.5l14,-14M659.5,215.5l-1,-1 0,-1-1,-1 0,-1-2,-2 0,-1-1,-1 0,-1-2,-2 0,-1-1,-1 0,-1-2,-2 0,-1-1,-1 0,-1-2,-2 0,-1-1,-1 0,-1-2,-2 0,-1-1,-1 0,-1-1,-1M645.5,192.5l7,-7 1,0 7,-7M648.5,195.5l14,-14M650.5,199.5l14,-14M652.5,203.5l14,-14M659.5,236.5l-1,-1 0,-1-1,-1 0,-1-2,-2 0,-1-1,-1 0,-1-2,-2 0,-1-1,-1 0,-1-2,-2 0,-1-1,-1 0,-1-2,-2 0,-1-1,-1 0,-1-2,-2 0,-1-1,-1 0,-1-1,-1M645.5,214.5l7,-7 1,0 7,-7M648.5,217.5l14,-14M650.5,221.5l14,-14M659.5,279.5l-4,-4 0,-1-7,-7 0,-1-8,-8 0,-1-4,-4M659.5,309.5l-1,-1 0,-1-2,-2 0,-1-3,-3 0,-1-2,-2 0,-1-2,-2 0,-1-2,-2 0,-1-2,-2 0,-1-3,-3 0,-1-2,-2 0,-1-1,-1M639.5,280.5l14,-14M642.5,284.5l3,-3 0,-1 7,-7 0,-1 3,-3M644.5,287.5l14,-14M647.5,291.5l2,-2 0,-1 3,-3 0,-1 1,-1M659.5,320.5l-3,-3 0,-1-6,-6 0,-1-5,-5 0,-1-6,-6 0,-1-3,-3M636.5,293.5l2,-2 0,-1 3,-3 0,-1 3,-3 0,-1 3,-3 0,-1 1,-1M639.5,296.5l2,-2 0,-1 3,-3 0,-1 3,-3 0,-1 3,-3 0,-1 1,-1M642.5,299.5l1,-1 0,-1 2,-2 0,-1 3,-3 0,-1 2,-2 0,-1 2,-2 0,-1 1,-1M659.5,330.5l-3,-3-1,0-6,-6-1,0-5,-5-1,0-6,-6-1,0-3,-3M632.5,307.5l1,-1 0,-1 1,-1 0,-1 1,-1 0,-1 1,-1 0,-1 1,-1 0,-1 1,-1 0,-1 1,-1 0,-1 1,-1 0,-1 1,-1M635.5,310.5l1,-1 0,-1 1,-1 0,-1 1,-1 0,-1 1,-1 0,-1 1,-1 0,-1 1,-1 0,-1 1,-1 0,-1 1,-1 0,-1 1,-1 0,-1M639.5,313.5l0,-1 1,-1 0,-1 1,-1 0,-1 1,-1 0,-1 1,-1 0,-1M659.5,340.5l-1,-1 0,-1-2,-2 0,-1-2,-2 0,-1-2,-2 0,-1-2,-2 0,-1-1,-1 0,-1-2,-2 0,-1-2,-2 0,-1-2,-2 0,-1-2,-2 0,-1-1,-1M640.5,311.5l14,-14M642.5,314.5l7,-7M659.5,350.5l-4,-4-1,0-7,-7-1,0-8,-8-1,0-4,-4M633.5,327.5l1,-1 0,-1 1,-1 0,-1 1,-1 0,-1 1,-1 0,-1 1,-1 0,-1 1,-1 0,-1 1,-1 0,-1 1,-1 0,-1 1,-1M636.5,330.5l1,-1 0,-1 1,-1 0,-1 1,-1 0,-1 1,-1 0,-1 1,-1 0,-1 1,-1 0,-1 1,-1 0,-1 1,-1 0,-1 1,-1 0,-1M659.5,360.5l-1,0-1,-1-1,0-1,-1-1,0-1,-1-1,0-1,-1-1,0-1,-1-1,0-1,-1-1,0-1,-1-1,0-1,-1-1,0-1,-1-1,0-1,-1-1,0-1,-1-1,0-1,-1-1,0-1,-1-1,0-1,-1-1,0-1,-1-1,0-1,-1M627.5,344.5l0,-2 1,-1 0,-4 1,-1 0,-3 1,-1 0,-4 1,-1 0,-2M631.5,346.5l0,-2 1,-1 0,-4 1,-1 0,-3 1,-1 0,-4 1,-1 0,-2M659.5,388.5l-1,0-1,-1-1,0-1,-1-1,0-1,-1-1,0-1,-1-1,0-1,-1-1,0-1,-1-1,0-1,-1-2,0-1,-1-1,0-1,-1-1,0-1,-1-1,0-1,-1-1,0-1,-1-1,0-1,-1-1,0-1,-1-1,0-1,-1-1,0M627.5,373.5l0,-2 1,-1 0,-4 1,-1 0,-3 1,-1 0,-4 1,-1 0,-2M659.5,398.5l-1,-1-1,0-1,-1-1,0-1,-1-1,0-1,-1-1,0-1,-1-1,0-1,-1-1,0-1,-1-1,0-1,-1-1,0-1,-1-1,0-1,-1-1,0-1,-1-1,0-1,-1-1,0-1,-1-1,0-1,-1-1,0-1,-1-1,0-1,-1M628.5,382.5l0,-2 1,-1 0,-4 1,-1 0,-3 1,-1 0,-4 1,-1 0,-2M659.5,434.5l-2,0-1,1-5,0-1,1-5,0-1,1-5,0-1,1-5,0-1,1-5,0-1,1-2,0M624.5,440.5l0,-1-1,-1 0,-1-1,-1 0,-1-1,-1 0,-1-1,-1 0,-1-1,-1 0,-1-1,-1 0,-1-1,-1 0,-1-1,-1 0,-1-1,-1M659.5,443.5l-1,0-1,1-3,0-1,1-3,0-1,1-3,0-1,1-2,0-1,1-3,0-1,1-3,0-1,1-3,0-1,1-3,0-1,1-1,0M630.5,451.5l-1,-1 0,-1-1,-1 0,-1-1,-1 0,-1-1,-1 0,-1-1,-1M659.5,452.5l0,-1-1,-1 0,-2-1,-1 0,-2-1,-1 0,-2-1,-1 0,-2-1,-1 0,-2-1,-1 0,-1-1,-1 0,-2-1,-1 0,-2-1,-1 0,-2-1,-1 0,-2-1,-1 0,-1M648.5,420.5l1,-1 1,0 2,-2 1,0 2,-2 1,0 1,-1 1,0 2,-2 1,0 2,-2 1,0 1,-1M649.5,424.5l1,-1 1,0 2,-2 1,0 2,-2 1,0 1,-1 1,0 2,-2 1,0 2,-2 1,0 1,-1M659.5,461.5l-1,-1 0,-1-1,-1 0,-1-2,-2 0,-1-1,-1 0,-1-2,-2 0,-1-1,-1 0,-1-2,-2 0,-1-1,-1 0,-1-2,-2 0,-1-1,-1 0,-1-2,-2 0,-1-1,-1 0,-1-1,-1M641.5,431.5l14,-14M643.5,435.5l7,-7 1,0 7,-7M659.5,471.5l-1,-1 0,-1-1,-1 0,-1-1,-1 0,-1-1,-1 0,-1-1,-1 0,-1-2,-2 0,-1-1,-1 0,-1-1,-1 0,-1-1,-1 0,-1-2,-2 0,-1-1,-1 0,-1-1,-1 0,-1-1,-1 0,-1-1,-1 0,-1-1,-1M642.5,440.5l6,-6 1,0 7,-7M644.5,444.5l7,-7M659.5,479.5l-1,0-1,-1-1,0-1,-1-1,0-1,-1-1,0-1,-1-1,0-1,-1-1,0-1,-1-1,0-1,-1-2,0-1,-1-1,0-1,-1-1,0-1,-1-1,0-1,-1-1,0-1,-1-1,0-1,-1-1,0-1,-1-1,0-1,-1-1,0M627.5,464.5l0,-2 1,-1 0,-4 1,-1 0,-4 1,-1 0,-4 1,-1 0,-2M631.5,466.5l0,-2 1,-1 0,-4 1,-1 0,-2M659.5,496.5l-1,0-1,-1-1,0-1,-1-1,0-1,-1-2,0-1,-1-1,0-1,-1-1,0-1,-1-1,0-1,-1-2,0-1,-1-1,0-1,-1-1,0-1,-1-2,0-1,-1-1,0-1,-1-1,0-1,-1-1,0-1,-1-1,0M627.5,482.5l0,-3 1,-1 0,-5 1,-1 0,-6 1,-1 0,-3M659.5,504.5l-2,0-1,-1-3,0-1,-1-3,0-1,-1-4,0-1,-1-3,0-1,-1-4,0-1,-1-3,0-1,-1-3,0-1,-1-2,0M624.5,496.5l0,-20M629.5,497.5l0,-10-1,-1 0,-9M659.5,521.5l-2,0-1,-1-5,0-1,-1-5,0-1,-1-5,0-1,-1-5,0-1,-1-5,0-1,-1-2,0M624.5,515.5l0,-4-1,-1 0,-9-1,-1 0,-4M628.5,516.5l0,-4-1,-1 0,-9-1,-1 0,-4M632.5,517.5l0,-5-1,-1 0,-4M659.5,530.5l-1,0-1,-1-1,0-1,-1-1,0-1,-1-1,0-1,-1-1,0-1,-1-1,0-1,-1-1,0-1,-1-2,0-1,-1-1,0-1,-1-1,0-1,-1-1,0-1,-1-1,0-1,-1-1,0-1,-1-1,0-1,-1-1,0-1,-1-1,0M627.5,515.5l0,-2 1,-1 0,-4 1,-1 0,-3 1,-1 0,-4 1,-1 0,-2M659.5,540.5l0,-1 1,-1 0,-1 1,-1 0,-2 1,-1 0,-1 1,-1 0,-2 1,-1 0,-1 1,-1 0,-1 1,-1 0,-2 1,-1 0,-1 1,-1 0,-2 1,-1 0,-1 1,-1 0,-2 1,-1 0,-1 1,-1 0,-1M670.5,513.5l4,0 1,1 5,0M659.5,546.5l1,-1 1,0 2,-2 1,0 3,-3 1,0 2,-2 1,0 2,-2 1,0 2,-2 1,0 2,-2 1,0 3,-3 1,0 2,-2 1,0 1,-1M683.5,529.5l4,4 1,0 3,3M659.5,553.5l1,-1 1,0 1,-1 1,0 1,-1 1,0 1,-1 1,0 1,-1 1,0 2,-2 1,0 1,-1 1,0 1,-1 1,0 1,-1 1,0 2,-2 1,0 1,-1 1,0 1,-1 1,0 1,-1 1,0 1,-1 1,0 1,-1M685.5,539.5l7,7" fill="none" stroke-linecap="square"/><path d="M636.6,112.5L650.3,101.7L639.8,116.1ZM630.6,129.7L641.1,116.0L634.6,132.5ZM630.5,151.7L640.9,137.9L634.5,154.5ZM639.8,157.2L654.6,147.9L642.6,161.2ZM641.7,174.8L657.0,166.5L644.2,179.0ZM641.7,185.0L657.0,176.7L644.2,189.2ZM641.7,206.8L657.0,198.5L644.2,211.0ZM636.8,253.1L650.5,242.5L639.9,256.8Z" fill="#000" stroke-linejoin="round"/></g>
<text transform="translate(31.08,30.4) scale(0.7559,1)" font-family="'Liberation Sans', sans-serif" font-size="17.8" fill="#0000cd" stroke="#f8fcf8" stroke-width="0.2">100</text>
<text transform="translate(26.80,191.1) scale(0.9035,1)" font-family="'Liberation Sans', sans-serif" font-size="17.8" fill="#0000cd" stroke="#f8fcf8" stroke-width="0.2">200</text>
<text transform="translate(27.20,285.0) scale(0.8896,1)" font-family="'Liberation Sans', sans-serif" font-size="17.8" fill="#0000cd" stroke="#f8fcf8" stroke-width="0.2">300</text>
<text transform="translate(27.24,351.7) scale(0.8883,1)" font-family="'Liberation Sans', sans-serif" font-size="17.8" fill="#0000cd" stroke="#f8fcf8" stroke-width="0.2">400</text>
<text transform="translate(27.17,403.4) scale(0.8907,1)" font-family="'Liberation Sans', sans-serif" font-size="17.8" fill="#0000cd" stroke="#f8fcf8" stroke-width="0.2">500</text>
<text transform="translate(26.99,445.7) scale(0.8969,1)" font-family="'Liberation Sans', sans-serif" font-size="17.8" fill="#0000cd" stroke="#f8fcf8" stroke-width="0.2">600</text>
<text transform="translate(26.99,481.4) scale(0.8969,1)" font-family="'Liberation Sans', sans-serif" font-size="17.8" fill="#0000cd" stroke="#f8fcf8" stroke-width="0.2">700</text>
<text transform="translate(27.32,512.4) scale(0.8853,1)" font-family="'Liberation Sans', sans-serif" font-size="17.8" fill="#0000cd" stroke="#f8fcf8" stroke-width="0.2">800</text>
<text transform="translate(27.26,539.7) scale(0.8876,1)" font-family="'Liberation Sans', sans-serif" font-size="17.8" fill="#0000cd" stroke="#f8fcf8" stroke-width="0.2">900</text>
<text transform="translate(21.92,564.1) scale(0.7989,1)" font-family="'Liberation Sans', sans-serif" font-size="17.8" fill="#0000cd" stroke="#f8fcf8" stroke-width="0.2">1000</text>
<text transform="translate(67.07,29.8) scale(0.9680,1)" font-family="'Liberation Sans', sans-serif" font-size="15.4" fill="#000000" stroke="#f8fcf8" stroke-width="0.1">16470 m</text>
<text transform="translate(67.07,123.8) scale(0.9680,1)" font-family="'Liberation Sans', sans-serif" font-size="15.4" fill="#000000" stroke="#f8fcf8" stroke-width="0.1">13960 m</text>
<text transform="translate(67.16,190.5) scale(0.8918,1)" font-family="'Liberation Sans', sans-serif" font-size="15.4" fill="#000000" stroke="#f8fcf8" stroke-width="0.1">12130 m</text>
<text transform="translate(67.07,242.2) scale(0.9680,1)" font-family="'Liberation Sans', sans-serif" font-size="15.4" fill="#000000" stroke="#f8fcf8" stroke-width="0.1">10680 m</text>
<text transform="translate(66.84,284.4) scale(1.0559,1)" font-family="'Liberation Sans', sans-serif" font-size="15.4" fill="#000000" stroke="#f8fcf8" stroke-width="0.1">9460 m</text>
<text transform="translate(66.90,320.2) scale(1.0545,1)" font-family="'Liberation Sans', sans-serif" font-size="15.4" fill="#000000" stroke="#f8fcf8" stroke-width="0.1">8394 m</text>
<text transform="translate(66.77,351.1) scale(1.0572,1)" font-family="'Liberation Sans', sans-serif" font-size="15.4" fill="#000000" stroke="#f8fcf8" stroke-width="0.1">7450 m</text>
<text transform="translate(66.77,378.4) scale(1.0572,1)" font-family="'Liberation Sans', sans-serif" font-size="15.4" fill="#000000" stroke="#f8fcf8" stroke-width="0.1">6592 m</text>
<text transform="translate(67.01,402.8) scale(0.9651,1)" font-family="'Liberation Sans', sans-serif" font-size="15.4" fill="#000000" stroke="#f8fcf8" stroke-width="0.1">5810 m</text>
<text transform="translate(67.01,424.9) scale(0.9651,1)" font-family="'Liberation Sans', sans-serif" font-size="15.4" fill="#000000" stroke="#f8fcf8" stroke-width="0.1">5081 m</text>
<text transform="translate(67.23,445.1) scale(1.0480,1)" font-family="'Liberation Sans', sans-serif" font-size="15.4" fill="#000000" stroke="#f8fcf8" stroke-width="0.1">4403 m</text>
<text transform="translate(66.98,463.6) scale(1.0529,1)" font-family="'Liberation Sans', sans-serif" font-size="15.4" fill="#000000" stroke="#f8fcf8" stroke-width="0.1">3773 m</text>
<text transform="translate(67.04,480.8) scale(0.9645,1)" font-family="'Liberation Sans', sans-serif" font-size="15.4" fill="#000000" stroke="#f8fcf8" stroke-width="0.1">3180 m</text>
<text transform="translate(66.85,496.8) scale(0.9681,1)" font-family="'Liberation Sans', sans-serif" font-size="15.4" fill="#000000" stroke="#f8fcf8" stroke-width="0.1">2612 m</text>
<text transform="translate(66.79,511.8) scale(1.0568,1)" font-family="'Liberation Sans', sans-serif" font-size="15.4" fill="#000000" stroke="#f8fcf8" stroke-width="0.1">2076 m</text>
<text transform="translate(67.08,525.8) scale(0.9597,1)" font-family="'Liberation Sans', sans-serif" font-size="15.4" fill="#000000" stroke="#f8fcf8" stroke-width="0.1">1572 m</text>
<text transform="translate(67.08,539.1) scale(0.9597,1)" font-family="'Liberation Sans', sans-serif" font-size="15.4" fill="#000000" stroke="#f8fcf8" stroke-width="0.1">1086 m</text>
<text transform="translate(66.85,551.6) scale(0.9585,1)" font-family="'Liberation Sans', sans-serif" font-size="15.4" fill="#000000" stroke="#f8fcf8" stroke-width="0.1">618 m</text>
<text transform="translate(67.09,563.5) scale(0.9479,1)" font-family="'Liberation Sans', sans-serif" font-size="15.4" fill="#000000" stroke="#f8fcf8" stroke-width="0.1">178 m</text>
<text transform="translate(47.89,583.6) scale(0.9981,1)" font-family="'Liberation Sans', sans-serif" font-size="17.6" fill="#0000cd" stroke="#f8fcf8" stroke-width="0.2">−50</text>
<text transform="translate(102.99,583.6) scale(1.1659,1)" font-family="'Liberation Sans', sans-serif" font-size="17.6" fill="#0000cd" stroke="#f8fcf8" stroke-width="0.2">−40</text>
<text transform="translate(164.02,583.6) scale(1.1306,1)" font-family="'Liberation Sans', sans-serif" font-size="17.6" fill="#0000cd" stroke="#f8fcf8" stroke-width="0.2">−30</text>
<text transform="translate(222.91,583.6) scale(1.1518,1)" font-family="'Liberation Sans', sans-serif" font-size="17.6" fill="#0000cd" stroke="#f8fcf8" stroke-width="0.2">−20</text>
<text transform="translate(285.16,583.6) scale(0.9751,1)" font-family="'Liberation Sans', sans-serif" font-size="17.6" fill="#0000cd" stroke="#f8fcf8" stroke-width="0.2">−10</text>
<text transform="translate(361.87,583.6) scale(1.0698,1)" font-family="'Liberation Sans', sans-serif" font-size="17.6" fill="#0000cd" stroke="#f8fcf8" stroke-width="0.2">0</text>
<text transform="translate(415.53,583.6) scale(0.8034,1)" font-family="'Liberation Sans', sans-serif" font-size="17.6" fill="#0000cd" stroke="#f8fcf8" stroke-width="0.2">10</text>
<text transform="translate(473.66,583.6) scale(1.0662,1)" font-family="'Liberation Sans', sans-serif" font-size="17.6" fill="#0000cd" stroke="#f8fcf8" stroke-width="0.2">20</text>
<text transform="translate(533.26,583.6) scale(1.1087,1)" font-family="'Liberation Sans', sans-serif" font-size="17.6" fill="#0000cd" stroke="#f8fcf8" stroke-width="0.2">30</text>
<text transform="translate(592.76,583.6) scale(1.0929,1)" font-family="'Liberation Sans', sans-serif" font-size="17.6" fill="#0000cd" stroke="#f8fcf8" stroke-width="0.2">40</text>
<text transform="translate(654.18,583.6) scale(0.9156,1)" font-family="'Liberation Sans', sans-serif" font-size="17.6" fill="#0000cd" stroke="#f8fcf8" stroke-width="0.2">C</text>
<text transform="translate(32.66,583.6) scale(0.9425,1)" font-family="'Liberation Sans', sans-serif" font-size="17.6" fill="#0000cd" stroke="#f8fcf8" stroke-width="0.2">mb</text>
<text transform="translate(103.93,596.0) scale(0.8629,1)" font-family="'Liberation Sans', sans-serif" font-size="17.0" fill="#50460f" stroke="#f8fcf8" stroke-width="0.15">0.1</text>
<text transform="translate(142.06,596.0) scale(1.1213,1)" font-family="'Liberation Sans', sans-serif" font-size="17.0" fill="#50460f" stroke="#f8fcf8" stroke-width="0.15">0.2</text>
<text transform="translate(212.99,596.0) scale(1.0667,1)" font-family="'Liberation Sans', sans-serif" font-size="17.0" fill="#50460f" stroke="#f8fcf8" stroke-width="0.15">0.6</text>
<text transform="translate(251.99,596.0) scale(0.7843,1)" font-family="'Liberation Sans', sans-serif" font-size="17.0" fill="#50460f" stroke="#f8fcf8" stroke-width="0.15">1.0</text>
<text transform="translate(300.10,596.0) scale(1.0580,1)" font-family="'Liberation Sans', sans-serif" font-size="17.0" fill="#50460f" stroke="#f8fcf8" stroke-width="0.15">2.0</text>
<text transform="translate(331.80,596.0) scale(1.0797,1)" font-family="'Liberation Sans', sans-serif" font-size="17.0" fill="#50460f" stroke="#f8fcf8" stroke-width="0.15">3.0</text>
<text transform="translate(374.80,596.0) scale(1.0365,1)" font-family="'Liberation Sans', sans-serif" font-size="17.0" fill="#50460f" stroke="#f8fcf8" stroke-width="0.15">5.0</text>
<text transform="translate(432.50,596.0) scale(0.9284,1)" font-family="'Liberation Sans', sans-serif" font-size="17.0" fill="#50460f" stroke="#f8fcf8" stroke-width="0.15">10.0</text>
<text transform="translate(495.28,596.0) scale(1.0864,1)" font-family="'Liberation Sans', sans-serif" font-size="17.0" fill="#50460f" stroke="#f8fcf8" stroke-width="0.15">20.0</text>
<text transform="translate(565.78,596.0) scale(1.0864,1)" font-family="'Liberation Sans', sans-serif" font-size="17.0" fill="#50460f" stroke="#f8fcf8" stroke-width="0.15">40.0</text>
<text transform="translate(640.28,596.0) scale(1.2925,1)" font-family="'Liberation Sans', sans-serif" font-size="17.0" fill="#50460f" stroke="#f8fcf8" stroke-width="0.15">g/kg</text>
<text x="65.8" y="20.6" font-family="'Liberation Serif', serif" font-size="12.3" font-weight="bold" fill="#0000aa" text-anchor="start" textLength="125.5" lengthAdjust="spacingAndGlyphs">OEPA (40373) Sounding</text>
<text x="561.2" y="20.6" font-family="'Liberation Serif', serif" font-size="12.3" font-weight="bold" fill="#0000aa" text-anchor="start" textLength="91" lengthAdjust="spacingAndGlyphs">1200Z 28 NOV 25</text>
<text x="698.6" y="34.4" font-family="'Liberation Serif', serif" font-size="12.3" font-weight="bold" fill="#0000aa" text-anchor="start">WMO:40373</text>
<text x="698.6" y="49.2" font-family="'Liberation Serif', serif" font-size="12.3" font-weight="bold" fill="#0000aa" text-anchor="start">TP:88</text>
<text x="698.6" y="63.9" font-family="'Liberation Serif', serif" font-size="12.3" font-weight="bold" fill="#0000aa" text-anchor="start">MW:227</text>
<text x="698.6" y="78.7" font-family="'Liberation Serif', serif" font-size="12.3" font-weight="bold" fill="#0000aa" text-anchor="start">FRZ:680</text>
<text x="698.6" y="93.5" font-family="'Liberation Serif', serif" font-size="12.3" font-weight="bold" fill="#0000aa" text-anchor="start">WB0:726</text>
<text x="698.6" y="108.2" font-family="'Liberation Serif', serif" font-size="12.3" font-weight="bold" fill="#0000aa" text-anchor="start">PW:0.58</text>
<text x="698.6" y="123.0" font-family="'Liberation Serif', serif" font-size="12.3" font-weight="bold" fill="#0000aa" text-anchor="start">RH:36.3</text>
<text x="698.6" y="137.8" font-family="'Liberation Serif', serif" font-size="12.3" font-weight="bold" fill="#0000aa" text-anchor="start">MAXT:27.9</text>
<text x="698.6" y="152.6" font-family="'Liberation Serif', serif" font-size="12.3" font-weight="bold" fill="#0000aa" text-anchor="start">TH:5632</text>
<text x="698.6" y="167.3" font-family="'Liberation Serif', serif" font-size="12.3" font-weight="bold" fill="#0000aa" text-anchor="start">L57:6.8</text>
<text x="698.6" y="182.1" font-family="'Liberation Serif', serif" font-size="12.3" font-weight="bold" fill="#0000aa" text-anchor="start">LCL:685</text>
<text x="698.6" y="196.9" font-family="'Liberation Serif', serif" font-size="12.3" font-weight="bold" fill="#0000aa" text-anchor="start">LI:5.8</text>
<text x="698.6" y="211.6" font-family="'Liberation Serif', serif" font-size="12.3" font-weight="bold" fill="#0000aa" text-anchor="start">SI:4.1</text>
<text x="698.6" y="226.4" font-family="'Liberation Serif', serif" font-size="12.3" font-weight="bold" fill="#0000aa" text-anchor="start">TT:45</text>
<text x="698.6" y="241.2" font-family="'Liberation Serif', serif" font-size="12.3" font-weight="bold" fill="#0000aa" text-anchor="start">KI:24</text>
<text x="698.6" y="255.9" font-family="'Liberation Serif', serif" font-size="12.3" font-weight="bold" fill="#0000aa" text-anchor="start">SW:42</text>
<text x="698.6" y="270.7" font-family="'Liberation Serif', serif" font-size="12.3" font-weight="bold" fill="#0000aa" text-anchor="start">EI:0.3</text>
<text x="698.6" y="285.5" font-family="'Liberation Serif', serif" font-size="12.3" font-weight="bold" fill="#0000aa" text-anchor="start">-PARCEL-</text>
<text x="698.6" y="300.3" font-family="'Liberation Serif', serif" font-size="12.3" font-weight="bold" fill="#0000aa" text-anchor="start">CAPE:8</text>
<text x="698.6" y="315.0" font-family="'Liberation Serif', serif" font-size="12.3" font-weight="bold" fill="#0000aa" text-anchor="start">CINH:53267</text>
<text x="698.6" y="329.8" font-family="'Liberation Serif', serif" font-size="12.3" font-weight="bold" fill="#0000aa" text-anchor="start">LCL:694</text>
<text x="698.6" y="344.6" font-family="'Liberation Serif', serif" font-size="12.3" font-weight="bold" fill="#0000aa" text-anchor="start">CAP:6.4</text>
<text x="698.6" y="359.3" font-family="'Liberation Serif', serif" font-size="12.3" font-weight="bold" fill="#0000aa" text-anchor="start">LFC:-1</text>
<text x="698.6" y="374.1" font-family="'Liberation Serif', serif" font-size="12.3" font-weight="bold" fill="#0000aa" text-anchor="start">-WIND-</text>
<text x="698.6" y="388.9" font-family="'Liberation Serif', serif" font-size="12.3" font-weight="bold" fill="#0000aa" text-anchor="start">STM:330/9</text>
<text x="698.6" y="403.6" font-family="'Liberation Serif', serif" font-size="12.3" font-weight="bold" fill="#0000aa" text-anchor="start">HEL:12</text>
<text x="698.6" y="418.4" font-family="'Liberation Serif', serif" font-size="12.3" font-weight="bold" fill="#0000aa" text-anchor="start">SHR+:0.0</text>
<text x="698.6" y="433.2" font-family="'Liberation Serif', serif" font-size="12.3" font-weight="bold" fill="#0000aa" text-anchor="start">SRDS:-146</text>
<text x="698.6" y="448.0" font-family="'Liberation Serif', serif" font-size="12.3" font-weight="bold" fill="#0000aa" text-anchor="start">EHI:0.0</text>
<text x="698.6" y="462.7" font-family="'Liberation Serif', serif" font-size="12.3" font-weight="bold" fill="#0000aa" text-anchor="start">BRN:0.3</text>
<text x="698.6" y="477.5" font-family="'Liberation Serif', serif" font-size="12.3" font-weight="bold" fill="#0000aa" text-anchor="start">BSHR:28</text>
</svg>
</body></html>
